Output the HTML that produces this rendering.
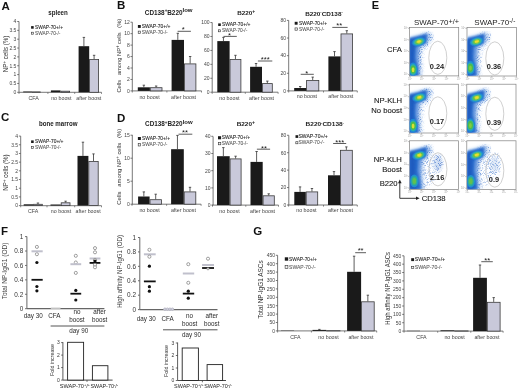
<!DOCTYPE html>
<html><head><meta charset="utf-8"><style>
html,body{margin:0;padding:0;background:#fff;}
svg{display:block;will-change:transform;}
text{font-family:"Liberation Sans", sans-serif;}
</style></head><body>
<svg width="520" height="390" viewBox="0 0 520 390" font-family='"Liberation Sans", sans-serif'>
<defs>
<filter id="blur05" x="-30%" y="-30%" width="160%" height="160%"><feGaussianBlur stdDeviation="0.55"/></filter>
<filter id="speck" x="0" y="0" width="100%" height="100%" filterUnits="objectBoundingBox"><feGaussianBlur in="SourceGraphic" stdDeviation="1.4" result="b"/><feTurbulence type="fractalNoise" baseFrequency="1.1" numOctaves="1" seed="3" result="n"/><feColorMatrix in="n" type="matrix" values="0 0 0 0 0  0 0 0 0 0  0 0 0 0 0  0 0 0 3.2 -1.55" result="na"/><feComposite in="b" in2="na" operator="in"/><feGaussianBlur stdDeviation="0.3"/></filter>
<filter id="blur1" x="-20%" y="-20%" width="140%" height="140%"><feGaussianBlur stdDeviation="0.8"/></filter>
<filter id="blur2" x="-30%" y="-30%" width="160%" height="160%"><feGaussianBlur stdDeviation="1.6"/></filter>
<radialGradient id="hot"><stop offset="0" stop-color="#f0d820"/><stop offset="0.22" stop-color="#e8e030"/><stop offset="0.42" stop-color="#5cc050"/><stop offset="0.62" stop-color="#20a8c0"/><stop offset="0.82" stop-color="#1c70cc"/><stop offset="1" stop-color="#2a6cc8" stop-opacity="0"/></radialGradient>
<radialGradient id="hot2"><stop offset="0" stop-color="#e8e430"/><stop offset="0.2" stop-color="#c0dc38"/><stop offset="0.42" stop-color="#40bc50"/><stop offset="0.65" stop-color="#20a0c8"/><stop offset="0.85" stop-color="#1c6cc8"/><stop offset="1" stop-color="#2a6cc8" stop-opacity="0"/></radialGradient>
<radialGradient id="hot3"><stop offset="0" stop-color="#78cc48"/><stop offset="0.35" stop-color="#40b868"/><stop offset="0.65" stop-color="#209cc8"/><stop offset="0.85" stop-color="#1c6cc8"/><stop offset="1" stop-color="#2a6cc8" stop-opacity="0"/></radialGradient>
</defs>
<rect width="520" height="390" fill="#fff"/>
<text x="1.4" y="9.8" font-size="11.5" text-anchor="start" font-weight="bold" fill="#111">A</text>
<text x="48.3" y="14.8" font-size="6.7" text-anchor="start" font-weight="bold" fill="#222" textLength="19.5" lengthAdjust="spacingAndGlyphs">spleen</text>
<line x1="19.0" y1="21.5" x2="19.0" y2="92.3" stroke="#555" stroke-width="0.8"/>
<line x1="17.2" y1="92.3" x2="19.0" y2="92.3" stroke="#555" stroke-width="0.8"/>
<text x="16.4" y="94.1" font-size="5" text-anchor="end" fill="#444">0</text>
<line x1="17.2" y1="83.45" x2="19.0" y2="83.45" stroke="#555" stroke-width="0.8"/>
<text x="16.4" y="85.25" font-size="5" text-anchor="end" fill="#444">0.5</text>
<line x1="17.2" y1="74.6" x2="19.0" y2="74.6" stroke="#555" stroke-width="0.8"/>
<text x="16.4" y="76.4" font-size="5" text-anchor="end" fill="#444">1</text>
<line x1="17.2" y1="65.75" x2="19.0" y2="65.75" stroke="#555" stroke-width="0.8"/>
<text x="16.4" y="67.55" font-size="5" text-anchor="end" fill="#444">1.5</text>
<line x1="17.2" y1="56.9" x2="19.0" y2="56.9" stroke="#555" stroke-width="0.8"/>
<text x="16.4" y="58.7" font-size="5" text-anchor="end" fill="#444">2</text>
<line x1="17.2" y1="48.05" x2="19.0" y2="48.05" stroke="#555" stroke-width="0.8"/>
<text x="16.4" y="49.85" font-size="5" text-anchor="end" fill="#444">2.5</text>
<line x1="17.2" y1="39.2" x2="19.0" y2="39.2" stroke="#555" stroke-width="0.8"/>
<text x="16.4" y="41.0" font-size="5" text-anchor="end" fill="#444">3</text>
<line x1="17.2" y1="30.35" x2="19.0" y2="30.35" stroke="#555" stroke-width="0.8"/>
<text x="16.4" y="32.15" font-size="5" text-anchor="end" fill="#444">3.5</text>
<line x1="17.2" y1="21.5" x2="19.0" y2="21.5" stroke="#555" stroke-width="0.8"/>
<text x="16.4" y="23.3" font-size="5" text-anchor="end" fill="#444">4</text>
<line x1="19.0" y1="92.3" x2="101.5" y2="92.3" stroke="#555" stroke-width="0.8"/>
<line x1="19.0" y1="92.3" x2="19.0" y2="93.89999999999999" stroke="#555" stroke-width="0.7"/>
<line x1="47.9" y1="92.3" x2="47.9" y2="93.89999999999999" stroke="#555" stroke-width="0.7"/>
<line x1="74.7" y1="92.3" x2="74.7" y2="93.89999999999999" stroke="#555" stroke-width="0.7"/>
<line x1="101.5" y1="92.3" x2="101.5" y2="93.89999999999999" stroke="#555" stroke-width="0.7"/>
<rect x="23.2" y="91.5" width="8.8" height="0.7999999999999972" fill="#1a1a1a" stroke="none" stroke-width="0.8"/>
<rect x="32.4" y="91.9" width="7.800000000000002" height="0.39999999999999714" fill="#c9c9da" stroke="#3a3a3a" stroke-width="0.8"/>
<rect x="50.9" y="90.4" width="9.600000000000001" height="1.8999999999999915" fill="#1a1a1a" stroke="none" stroke-width="0.8"/>
<rect x="60.9" y="91.2" width="8.7" height="1.1" fill="#c9c9da" stroke="#3a3a3a" stroke-width="0.8"/>
<rect x="78.6" y="46.2" width="10.600000000000009" height="46.099999999999994" fill="#1a1a1a" stroke="none" stroke-width="0.8"/>
<line x1="83.9" y1="37.4" x2="83.9" y2="46.2" stroke="#333" stroke-width="0.8"/>
<line x1="82.7" y1="37.4" x2="85.10000000000001" y2="37.4" stroke="#333" stroke-width="0.8"/>
<rect x="89.60000000000001" y="59.4" width="8.999999999999996" height="32.9" fill="#c9c9da" stroke="#3a3a3a" stroke-width="0.8"/>
<line x1="94.1" y1="55.3" x2="94.1" y2="59.0" stroke="#333" stroke-width="0.8"/>
<line x1="92.89999999999999" y1="55.3" x2="95.3" y2="55.3" stroke="#333" stroke-width="0.8"/>
<rect x="31.1" y="26.1" width="2.6" height="2.6" fill="#1a1a1a" stroke="none" stroke-width="0.8"/>
<rect x="31.400000000000002" y="32.199999999999996" width="2.0" height="2.0" fill="#f0f0f0" stroke="#333" stroke-width="0.6"/>
<text x="35.1" y="28.8" font-size="5.2" text-anchor="start" fill="#2a2a2a" stroke="#2a2a2a" stroke-width="0.1" textLength="27.9" lengthAdjust="spacingAndGlyphs">SWAP-70+/+</text>
<text x="35.1" y="34.6" font-size="5.2" text-anchor="start" fill="#5a5a5a" stroke="#5a5a5a" stroke-width="0.08" textLength="25.2" lengthAdjust="spacingAndGlyphs">SWAP-70-/-</text>
<text x="33.6" y="99.7" font-size="5.3" text-anchor="middle" fill="#444">CFA</text>
<text x="61.3" y="99.7" font-size="5.3" text-anchor="middle" fill="#444">no boost</text>
<text x="88.8" y="99.7" font-size="5.3" text-anchor="middle" fill="#444">after boost</text>
<text x="7.8" y="54.0" font-size="6.3" text-anchor="middle" fill="#333" transform="rotate(-90 7.8 54.0)" textLength="36.5" lengthAdjust="spacingAndGlyphs">NP<tspan font-size="4.8" dy="-2.2">+</tspan><tspan dy="2.2"> cells (%)</tspan></text>
<text x="117.0" y="9.2" font-size="11.5" text-anchor="start" font-weight="bold" fill="#111">B</text>
<text x="144.8" y="14.5" font-size="6.4" font-weight="bold" fill="#222" textLength="47.79999999999998" lengthAdjust="spacingAndGlyphs">CD138<tspan font-size="4.4799999999999995" dy="-2.3">+</tspan><tspan dy="2.3">B220</tspan><tspan font-size="6.08" dy="-2.6">low</tspan></text>
<line x1="132.3" y1="22.2" x2="132.3" y2="90.9" stroke="#555" stroke-width="0.8"/>
<line x1="130.5" y1="90.9" x2="132.3" y2="90.9" stroke="#555" stroke-width="0.8"/>
<text x="129.70000000000002" y="92.7" font-size="5" text-anchor="end" fill="#444">0</text>
<line x1="130.5" y1="79.45" x2="132.3" y2="79.45" stroke="#555" stroke-width="0.8"/>
<text x="129.70000000000002" y="81.25" font-size="5" text-anchor="end" fill="#444">2</text>
<line x1="130.5" y1="68.0" x2="132.3" y2="68.0" stroke="#555" stroke-width="0.8"/>
<text x="129.70000000000002" y="69.8" font-size="5" text-anchor="end" fill="#444">4</text>
<line x1="130.5" y1="56.55" x2="132.3" y2="56.55" stroke="#555" stroke-width="0.8"/>
<text x="129.70000000000002" y="58.35" font-size="5" text-anchor="end" fill="#444">6</text>
<line x1="130.5" y1="45.1" x2="132.3" y2="45.1" stroke="#555" stroke-width="0.8"/>
<text x="129.70000000000002" y="46.9" font-size="5" text-anchor="end" fill="#444">8</text>
<line x1="130.5" y1="33.65" x2="132.3" y2="33.65" stroke="#555" stroke-width="0.8"/>
<text x="129.70000000000002" y="35.45" font-size="5" text-anchor="end" fill="#444">10</text>
<line x1="130.5" y1="22.2" x2="132.3" y2="22.2" stroke="#555" stroke-width="0.8"/>
<text x="129.70000000000002" y="24.0" font-size="5" text-anchor="end" fill="#444">12</text>
<line x1="132.3" y1="90.9" x2="201.5" y2="90.9" stroke="#555" stroke-width="0.8"/>
<line x1="132.3" y1="90.9" x2="132.3" y2="92.5" stroke="#555" stroke-width="0.7"/>
<line x1="166.9" y1="90.9" x2="166.9" y2="92.5" stroke="#555" stroke-width="0.7"/>
<line x1="201.5" y1="90.9" x2="201.5" y2="92.5" stroke="#555" stroke-width="0.7"/>
<rect x="137.8" y="87.3" width="12.099999999999994" height="3.6000000000000085" fill="#1a1a1a" stroke="none" stroke-width="0.8"/>
<line x1="143.85000000000002" y1="85.2" x2="143.85000000000002" y2="87.3" stroke="#333" stroke-width="0.8"/>
<line x1="142.65000000000003" y1="85.2" x2="145.05" y2="85.2" stroke="#333" stroke-width="0.8"/>
<rect x="150.3" y="87.7" width="11.7" height="3.2000000000000086" fill="#c9c9da" stroke="#3a3a3a" stroke-width="0.8"/>
<line x1="156.15" y1="86.0" x2="156.15" y2="87.3" stroke="#333" stroke-width="0.8"/>
<line x1="154.95000000000002" y1="86.0" x2="157.35" y2="86.0" stroke="#333" stroke-width="0.8"/>
<rect x="171.6" y="39.9" width="12.400000000000006" height="51.00000000000001" fill="#1a1a1a" stroke="none" stroke-width="0.8"/>
<line x1="177.8" y1="33.3" x2="177.8" y2="39.9" stroke="#333" stroke-width="0.8"/>
<line x1="176.60000000000002" y1="33.3" x2="179.0" y2="33.3" stroke="#333" stroke-width="0.8"/>
<rect x="184.4" y="63.9" width="11.50000000000001" height="27.000000000000007" fill="#c9c9da" stroke="#3a3a3a" stroke-width="0.8"/>
<line x1="190.15" y1="56.5" x2="190.15" y2="63.5" stroke="#333" stroke-width="0.8"/>
<line x1="188.95000000000002" y1="56.5" x2="191.35" y2="56.5" stroke="#333" stroke-width="0.8"/>
<line x1="177.6" y1="31.3" x2="190.9" y2="31.3" stroke="#333" stroke-width="0.8"/>
<text x="183.2" y="31.75" font-size="7.6" text-anchor="middle" fill="#1a1a1a">*</text>
<rect x="137.9" y="25.0" width="2.9" height="2.9" fill="#1a1a1a" stroke="none" stroke-width="0.8"/>
<rect x="138.20000000000002" y="31.1" width="2.3" height="2.3" fill="#f0f0f0" stroke="#333" stroke-width="0.6"/>
<text x="141.8" y="28.0" font-size="5.0" text-anchor="start" fill="#2a2a2a" stroke="#2a2a2a" stroke-width="0.1" textLength="28.6" lengthAdjust="spacingAndGlyphs">SWAP-70+/+</text>
<text x="141.8" y="33.8" font-size="5.0" text-anchor="start" fill="#5a5a5a" stroke="#5a5a5a" stroke-width="0.08" textLength="25.9" lengthAdjust="spacingAndGlyphs">SWAP-70-/-</text>
<text x="149.6" y="98.6" font-size="5.3" text-anchor="middle" fill="#444">no boost</text>
<text x="183.5" y="98.6" font-size="5.3" text-anchor="middle" fill="#444">after boost</text>
<text x="121.4" y="55.65" font-size="6.0" text-anchor="middle" fill="#333" transform="rotate(-90 121.4 55.65)" textLength="73.9" lengthAdjust="spacingAndGlyphs">Cells&#160;&#160; among NP<tspan font-size="4.5" dy="-2">+</tspan><tspan dy="2"> cells&#160;&#160; (%)</tspan></text>
<text x="237.2" y="15.3" font-size="6.2" font-weight="bold" fill="#222" textLength="18.0" lengthAdjust="spacingAndGlyphs">B220<tspan font-size="4.960000000000001" dy="-2.3">+</tspan></text>
<line x1="212.2" y1="22.5" x2="212.2" y2="92.2" stroke="#555" stroke-width="0.8"/>
<line x1="210.39999999999998" y1="92.2" x2="212.2" y2="92.2" stroke="#555" stroke-width="0.8"/>
<text x="209.6" y="94.0" font-size="5" text-anchor="end" fill="#444">0</text>
<line x1="210.39999999999998" y1="78.27" x2="212.2" y2="78.27" stroke="#555" stroke-width="0.8"/>
<text x="209.6" y="80.07" font-size="5" text-anchor="end" fill="#444">20</text>
<line x1="210.39999999999998" y1="64.34" x2="212.2" y2="64.34" stroke="#555" stroke-width="0.8"/>
<text x="209.6" y="66.14" font-size="5" text-anchor="end" fill="#444">40</text>
<line x1="210.39999999999998" y1="50.41" x2="212.2" y2="50.41" stroke="#555" stroke-width="0.8"/>
<text x="209.6" y="52.21" font-size="5" text-anchor="end" fill="#444">60</text>
<line x1="210.39999999999998" y1="36.48" x2="212.2" y2="36.48" stroke="#555" stroke-width="0.8"/>
<text x="209.6" y="38.28" font-size="5" text-anchor="end" fill="#444">80</text>
<line x1="210.39999999999998" y1="22.55" x2="212.2" y2="22.55" stroke="#555" stroke-width="0.8"/>
<text x="209.6" y="24.35" font-size="5" text-anchor="end" fill="#444">100</text>
<line x1="212.2" y1="92.2" x2="278.1" y2="92.2" stroke="#555" stroke-width="0.8"/>
<line x1="212.2" y1="92.2" x2="212.2" y2="93.8" stroke="#555" stroke-width="0.7"/>
<line x1="245.3" y1="92.2" x2="245.3" y2="93.8" stroke="#555" stroke-width="0.7"/>
<line x1="278.1" y1="92.2" x2="278.1" y2="93.8" stroke="#555" stroke-width="0.7"/>
<rect x="217.3" y="41.1" width="12.299999999999983" height="51.1" fill="#1a1a1a" stroke="none" stroke-width="0.8"/>
<line x1="223.45" y1="37.4" x2="223.45" y2="41.1" stroke="#333" stroke-width="0.8"/>
<line x1="222.25" y1="37.4" x2="224.64999999999998" y2="37.4" stroke="#333" stroke-width="0.8"/>
<rect x="230.0" y="59.4" width="10.900000000000016" height="32.800000000000004" fill="#c9c9da" stroke="#3a3a3a" stroke-width="0.8"/>
<line x1="235.45" y1="55.3" x2="235.45" y2="59.0" stroke="#333" stroke-width="0.8"/>
<line x1="234.25" y1="55.3" x2="236.64999999999998" y2="55.3" stroke="#333" stroke-width="0.8"/>
<rect x="250.1" y="66.8" width="11.900000000000006" height="25.400000000000006" fill="#1a1a1a" stroke="none" stroke-width="0.8"/>
<line x1="256.05" y1="63.5" x2="256.05" y2="66.8" stroke="#333" stroke-width="0.8"/>
<line x1="254.85000000000002" y1="63.5" x2="257.25" y2="63.5" stroke="#333" stroke-width="0.8"/>
<rect x="262.4" y="83.60000000000001" width="9.899999999999988" height="8.6" fill="#c9c9da" stroke="#3a3a3a" stroke-width="0.8"/>
<line x1="267.35" y1="81.1" x2="267.35" y2="83.2" stroke="#333" stroke-width="0.8"/>
<line x1="266.15000000000003" y1="81.1" x2="268.55" y2="81.1" stroke="#333" stroke-width="0.8"/>
<line x1="223.5" y1="36.4" x2="236.8" y2="36.4" stroke="#333" stroke-width="0.8"/>
<text x="229.6" y="38.15" font-size="7.6" text-anchor="middle" fill="#1a1a1a">*</text>
<line x1="257.9" y1="61.0" x2="272.3" y2="61.0" stroke="#333" stroke-width="0.8"/>
<text x="265.3" y="61.95" font-size="7.6" text-anchor="middle" fill="#1a1a1a">***</text>
<rect x="218.2" y="23.4" width="2.6" height="2.6" fill="#1a1a1a" stroke="none" stroke-width="0.8"/>
<rect x="218.5" y="29.8" width="2.0" height="2.0" fill="#f0f0f0" stroke="#333" stroke-width="0.6"/>
<text x="221.9" y="26.1" font-size="4.9" text-anchor="start" fill="#2a2a2a" stroke="#2a2a2a" stroke-width="0.1" textLength="28.6" lengthAdjust="spacingAndGlyphs">SWAP-70+/+</text>
<text x="221.9" y="32.2" font-size="4.9" text-anchor="start" fill="#5a5a5a" stroke="#5a5a5a" stroke-width="0.08" textLength="25.4" lengthAdjust="spacingAndGlyphs">SWAP-70-/-</text>
<text x="229.4" y="99.6" font-size="5.3" text-anchor="middle" fill="#444">no boost</text>
<text x="261.5" y="99.6" font-size="5.3" text-anchor="middle" fill="#444">after boost</text>
<text x="305.2" y="15.5" font-size="6.2" font-weight="bold" fill="#222" textLength="37.5" lengthAdjust="spacingAndGlyphs">B220<tspan font-size="3.7199999999999998" dy="-2.3">-</tspan><tspan dy="2.3">CD138</tspan><tspan font-size="3.7199999999999998" dy="-2.3">-</tspan></text>
<line x1="288.7" y1="20.4" x2="288.7" y2="90.9" stroke="#555" stroke-width="0.8"/>
<line x1="286.9" y1="90.9" x2="288.7" y2="90.9" stroke="#555" stroke-width="0.8"/>
<text x="286.09999999999997" y="92.7" font-size="5" text-anchor="end" fill="#444">0</text>
<line x1="286.9" y1="73.28" x2="288.7" y2="73.28" stroke="#555" stroke-width="0.8"/>
<text x="286.09999999999997" y="75.08" font-size="5" text-anchor="end" fill="#444">20</text>
<line x1="286.9" y1="55.66" x2="288.7" y2="55.66" stroke="#555" stroke-width="0.8"/>
<text x="286.09999999999997" y="57.46" font-size="5" text-anchor="end" fill="#444">40</text>
<line x1="286.9" y1="38.04" x2="288.7" y2="38.04" stroke="#555" stroke-width="0.8"/>
<text x="286.09999999999997" y="39.84" font-size="5" text-anchor="end" fill="#444">60</text>
<line x1="286.9" y1="20.42" x2="288.7" y2="20.42" stroke="#555" stroke-width="0.8"/>
<text x="286.09999999999997" y="22.22" font-size="5" text-anchor="end" fill="#444">80</text>
<line x1="288.7" y1="90.9" x2="357.3" y2="90.9" stroke="#555" stroke-width="0.8"/>
<line x1="288.7" y1="90.9" x2="288.7" y2="92.5" stroke="#555" stroke-width="0.7"/>
<line x1="323.5" y1="90.9" x2="323.5" y2="92.5" stroke="#555" stroke-width="0.7"/>
<line x1="357.3" y1="90.9" x2="357.3" y2="92.5" stroke="#555" stroke-width="0.7"/>
<rect x="294.2" y="88.0" width="12.0" height="2.9000000000000057" fill="#1a1a1a" stroke="none" stroke-width="0.8"/>
<line x1="300.2" y1="86.5" x2="300.2" y2="88.0" stroke="#333" stroke-width="0.8"/>
<line x1="299.0" y1="86.5" x2="301.4" y2="86.5" stroke="#333" stroke-width="0.8"/>
<rect x="306.59999999999997" y="80.4" width="12.2" height="10.500000000000005" fill="#c9c9da" stroke="#3a3a3a" stroke-width="0.8"/>
<line x1="312.7" y1="77.1" x2="312.7" y2="80.0" stroke="#333" stroke-width="0.8"/>
<line x1="311.5" y1="77.1" x2="313.9" y2="77.1" stroke="#333" stroke-width="0.8"/>
<rect x="328.4" y="56.4" width="12.200000000000045" height="34.50000000000001" fill="#1a1a1a" stroke="none" stroke-width="0.8"/>
<line x1="334.5" y1="51.6" x2="334.5" y2="56.4" stroke="#333" stroke-width="0.8"/>
<line x1="333.3" y1="51.6" x2="335.7" y2="51.6" stroke="#333" stroke-width="0.8"/>
<rect x="341.0" y="33.9" width="11.599999999999977" height="57.00000000000001" fill="#c9c9da" stroke="#3a3a3a" stroke-width="0.8"/>
<line x1="346.8" y1="30.7" x2="346.8" y2="33.5" stroke="#333" stroke-width="0.8"/>
<line x1="345.6" y1="30.7" x2="348.0" y2="30.7" stroke="#333" stroke-width="0.8"/>
<line x1="300.7" y1="74.3" x2="313.8" y2="74.3" stroke="#333" stroke-width="0.8"/>
<text x="306.8" y="75.65" font-size="7.6" text-anchor="middle" fill="#1a1a1a">*</text>
<line x1="332.3" y1="27.4" x2="347.6" y2="27.4" stroke="#333" stroke-width="0.8"/>
<text x="339.2" y="28.15" font-size="7.6" text-anchor="middle" fill="#1a1a1a">**</text>
<rect x="294.7" y="21.8" width="2.9" height="2.9" fill="#1a1a1a" stroke="none" stroke-width="0.8"/>
<rect x="295.0" y="27.900000000000002" width="2.3" height="2.3" fill="#f0f0f0" stroke="#333" stroke-width="0.6"/>
<text x="299.1" y="24.8" font-size="5.0" text-anchor="start" fill="#2a2a2a" stroke="#2a2a2a" stroke-width="0.1" textLength="27.9" lengthAdjust="spacingAndGlyphs">SWAP-70+/+</text>
<text x="299.1" y="30.6" font-size="5.0" text-anchor="start" fill="#5a5a5a" stroke="#5a5a5a" stroke-width="0.08" textLength="25.2" lengthAdjust="spacingAndGlyphs">SWAP-70-/-</text>
<text x="306.9" y="98.2" font-size="5.3" text-anchor="middle" fill="#444">no boost</text>
<text x="340.8" y="98.2" font-size="5.3" text-anchor="middle" fill="#444">after boost</text>
<text x="1.0" y="121.2" font-size="11.5" text-anchor="start" font-weight="bold" fill="#111">C</text>
<text x="39.0" y="126.2" font-size="6.6" text-anchor="start" font-weight="bold" fill="#222" textLength="38.5" lengthAdjust="spacingAndGlyphs">bone marrow</text>
<line x1="20.7" y1="136.1" x2="20.7" y2="205.6" stroke="#555" stroke-width="0.8"/>
<line x1="18.9" y1="205.6" x2="20.7" y2="205.6" stroke="#555" stroke-width="0.8"/>
<text x="18.099999999999998" y="207.4" font-size="5" text-anchor="end" fill="#444">0</text>
<line x1="18.9" y1="196.91" x2="20.7" y2="196.91" stroke="#555" stroke-width="0.8"/>
<text x="18.099999999999998" y="198.71" font-size="5" text-anchor="end" fill="#444">0.5</text>
<line x1="18.9" y1="188.22" x2="20.7" y2="188.22" stroke="#555" stroke-width="0.8"/>
<text x="18.099999999999998" y="190.02" font-size="5" text-anchor="end" fill="#444">1</text>
<line x1="18.9" y1="179.53" x2="20.7" y2="179.53" stroke="#555" stroke-width="0.8"/>
<text x="18.099999999999998" y="181.33" font-size="5" text-anchor="end" fill="#444">1.5</text>
<line x1="18.9" y1="170.84" x2="20.7" y2="170.84" stroke="#555" stroke-width="0.8"/>
<text x="18.099999999999998" y="172.64" font-size="5" text-anchor="end" fill="#444">2</text>
<line x1="18.9" y1="162.15" x2="20.7" y2="162.15" stroke="#555" stroke-width="0.8"/>
<text x="18.099999999999998" y="163.95" font-size="5" text-anchor="end" fill="#444">2.5</text>
<line x1="18.9" y1="153.46" x2="20.7" y2="153.46" stroke="#555" stroke-width="0.8"/>
<text x="18.099999999999998" y="155.26" font-size="5" text-anchor="end" fill="#444">3</text>
<line x1="18.9" y1="144.77" x2="20.7" y2="144.77" stroke="#555" stroke-width="0.8"/>
<text x="18.099999999999998" y="146.57" font-size="5" text-anchor="end" fill="#444">3.5</text>
<line x1="18.9" y1="136.08" x2="20.7" y2="136.08" stroke="#555" stroke-width="0.8"/>
<text x="18.099999999999998" y="137.88" font-size="5" text-anchor="end" fill="#444">4</text>
<line x1="20.7" y1="205.7" x2="101.5" y2="205.7" stroke="#555" stroke-width="0.8"/>
<line x1="20.7" y1="205.7" x2="20.7" y2="207.29999999999998" stroke="#555" stroke-width="0.7"/>
<line x1="47.0" y1="205.7" x2="47.0" y2="207.29999999999998" stroke="#555" stroke-width="0.7"/>
<line x1="74.7" y1="205.7" x2="74.7" y2="207.29999999999998" stroke="#555" stroke-width="0.7"/>
<line x1="101.5" y1="205.7" x2="101.5" y2="207.29999999999998" stroke="#555" stroke-width="0.7"/>
<rect x="23.7" y="204.3" width="9.500000000000004" height="1.299999999999983" fill="#1a1a1a" stroke="none" stroke-width="0.8"/>
<rect x="33.6" y="204.3" width="8.7" height="1.2999999999999887" fill="#c9c9da" stroke="#3a3a3a" stroke-width="0.8"/>
<line x1="37.95" y1="203.0" x2="37.95" y2="203.9" stroke="#333" stroke-width="0.8"/>
<line x1="36.75" y1="203.0" x2="39.150000000000006" y2="203.0" stroke="#333" stroke-width="0.8"/>
<rect x="50.5" y="204.5" width="10.299999999999997" height="1.0999999999999943" fill="#1a1a1a" stroke="none" stroke-width="0.8"/>
<rect x="61.199999999999996" y="202.8" width="8.800000000000008" height="2.7999999999999887" fill="#c9c9da" stroke="#3a3a3a" stroke-width="0.8"/>
<line x1="65.6" y1="201.2" x2="65.6" y2="202.4" stroke="#333" stroke-width="0.8"/>
<line x1="64.39999999999999" y1="201.2" x2="66.8" y2="201.2" stroke="#333" stroke-width="0.8"/>
<rect x="77.5" y="155.9" width="10.900000000000006" height="49.69999999999999" fill="#1a1a1a" stroke="none" stroke-width="0.8"/>
<line x1="82.95" y1="142.2" x2="82.95" y2="155.9" stroke="#333" stroke-width="0.8"/>
<line x1="81.75" y1="142.2" x2="84.15" y2="142.2" stroke="#333" stroke-width="0.8"/>
<rect x="88.80000000000001" y="161.4" width="9.399999999999988" height="44.199999999999996" fill="#c9c9da" stroke="#3a3a3a" stroke-width="0.8"/>
<line x1="93.5" y1="153.9" x2="93.5" y2="161.0" stroke="#333" stroke-width="0.8"/>
<line x1="92.3" y1="153.9" x2="94.7" y2="153.9" stroke="#333" stroke-width="0.8"/>
<rect x="31.1" y="140.4" width="2.6" height="2.6" fill="#1a1a1a" stroke="none" stroke-width="0.8"/>
<rect x="31.400000000000002" y="146.60000000000002" width="2.0" height="2.0" fill="#f0f0f0" stroke="#333" stroke-width="0.6"/>
<text x="35.1" y="143.1" font-size="5.2" text-anchor="start" fill="#2a2a2a" stroke="#2a2a2a" stroke-width="0.1" textLength="28.4" lengthAdjust="spacingAndGlyphs">SWAP-70+/+</text>
<text x="35.1" y="149.0" font-size="5.2" text-anchor="start" fill="#5a5a5a" stroke="#5a5a5a" stroke-width="0.08" textLength="26.0" lengthAdjust="spacingAndGlyphs">SWAP-70-/-</text>
<text x="33.2" y="212.9" font-size="5.3" text-anchor="middle" fill="#444">CFA</text>
<text x="61.0" y="212.9" font-size="5.3" text-anchor="middle" fill="#444">no boost</text>
<text x="88.1" y="212.9" font-size="5.3" text-anchor="middle" fill="#444">after boost</text>
<text x="7.8" y="172.6" font-size="6.3" text-anchor="middle" fill="#333" transform="rotate(-90 7.8 172.6)" textLength="36.3" lengthAdjust="spacingAndGlyphs">NP<tspan font-size="4.8" dy="-2.2">+</tspan><tspan dy="2.2"> cells (%)</tspan></text>
<text x="117.0" y="122.0" font-size="11.5" text-anchor="start" font-weight="bold" fill="#111">D</text>
<text x="145.1" y="126.1" font-size="6.4" font-weight="bold" fill="#222" textLength="47.599999999999994" lengthAdjust="spacingAndGlyphs">CD138<tspan font-size="4.4799999999999995" dy="-2.3">+</tspan><tspan dy="2.3">B220</tspan><tspan font-size="6.08" dy="-2.6">low</tspan></text>
<line x1="132.3" y1="134.9" x2="132.3" y2="204.2" stroke="#555" stroke-width="0.8"/>
<line x1="130.5" y1="204.2" x2="132.3" y2="204.2" stroke="#555" stroke-width="0.8"/>
<text x="129.70000000000002" y="206.0" font-size="5" text-anchor="end" fill="#444">0</text>
<line x1="130.5" y1="181.2" x2="132.3" y2="181.2" stroke="#555" stroke-width="0.8"/>
<text x="129.70000000000002" y="183.0" font-size="5" text-anchor="end" fill="#444">5</text>
<line x1="130.5" y1="158.2" x2="132.3" y2="158.2" stroke="#555" stroke-width="0.8"/>
<text x="129.70000000000002" y="160.0" font-size="5" text-anchor="end" fill="#444">10</text>
<line x1="130.5" y1="135.2" x2="132.3" y2="135.2" stroke="#555" stroke-width="0.8"/>
<text x="129.70000000000002" y="137.0" font-size="5" text-anchor="end" fill="#444">15</text>
<line x1="132.0" y1="204.2" x2="201.1" y2="204.2" stroke="#555" stroke-width="0.8"/>
<line x1="132.0" y1="204.2" x2="132.0" y2="205.79999999999998" stroke="#555" stroke-width="0.7"/>
<line x1="166.6" y1="204.2" x2="166.6" y2="205.79999999999998" stroke="#555" stroke-width="0.7"/>
<line x1="201.1" y1="204.2" x2="201.1" y2="205.79999999999998" stroke="#555" stroke-width="0.7"/>
<rect x="138.1" y="196.5" width="11.5" height="7.699999999999989" fill="#1a1a1a" stroke="none" stroke-width="0.8"/>
<line x1="143.85" y1="191.9" x2="143.85" y2="196.5" stroke="#333" stroke-width="0.8"/>
<line x1="142.65" y1="191.9" x2="145.04999999999998" y2="191.9" stroke="#333" stroke-width="0.8"/>
<rect x="150.0" y="199.70000000000002" width="11.400000000000016" height="4.499999999999977" fill="#c9c9da" stroke="#3a3a3a" stroke-width="0.8"/>
<line x1="155.7" y1="194.2" x2="155.7" y2="199.3" stroke="#333" stroke-width="0.8"/>
<line x1="154.5" y1="194.2" x2="156.89999999999998" y2="194.2" stroke="#333" stroke-width="0.8"/>
<rect x="171.1" y="149.2" width="12.700000000000017" height="55.0" fill="#1a1a1a" stroke="none" stroke-width="0.8"/>
<line x1="177.45" y1="135.4" x2="177.45" y2="149.2" stroke="#333" stroke-width="0.8"/>
<line x1="176.25" y1="135.4" x2="178.64999999999998" y2="135.4" stroke="#333" stroke-width="0.8"/>
<rect x="184.20000000000002" y="191.9" width="11.599999999999977" height="12.299999999999988" fill="#c9c9da" stroke="#3a3a3a" stroke-width="0.8"/>
<line x1="190.0" y1="187.3" x2="190.0" y2="191.5" stroke="#333" stroke-width="0.8"/>
<line x1="188.8" y1="187.3" x2="191.2" y2="187.3" stroke="#333" stroke-width="0.8"/>
<line x1="178.5" y1="134.2" x2="192.3" y2="134.2" stroke="#333" stroke-width="0.8"/>
<text x="185.0" y="135.45" font-size="7.6" text-anchor="middle" fill="#1a1a1a">**</text>
<rect x="137.9" y="137.0" width="3.0" height="3.0" fill="#1a1a1a" stroke="none" stroke-width="0.8"/>
<rect x="138.20000000000002" y="143.60000000000002" width="2.4" height="2.4" fill="#f0f0f0" stroke="#333" stroke-width="0.6"/>
<text x="142.1" y="140.1" font-size="5.0" text-anchor="start" fill="#2a2a2a" stroke="#2a2a2a" stroke-width="0.1" textLength="27.9" lengthAdjust="spacingAndGlyphs">SWAP-70+/+</text>
<text x="142.1" y="146.4" font-size="5.0" text-anchor="start" fill="#5a5a5a" stroke="#5a5a5a" stroke-width="0.08" textLength="25.2" lengthAdjust="spacingAndGlyphs">SWAP-70-/-</text>
<text x="149.6" y="211.9" font-size="5.3" text-anchor="middle" fill="#444">no boost</text>
<text x="183.4" y="211.9" font-size="5.3" text-anchor="middle" fill="#444">after boost</text>
<text x="121.4" y="166.7" font-size="6.0" text-anchor="middle" fill="#333" transform="rotate(-90 121.4 166.7)" textLength="76" lengthAdjust="spacingAndGlyphs">Cells&#160;&#160; among NP<tspan font-size="4.5" dy="-2">+</tspan><tspan dy="2"> cells&#160;&#160; (%)</tspan></text>
<text x="236.7" y="126.3" font-size="6.2" font-weight="bold" fill="#222" textLength="18.30000000000001" lengthAdjust="spacingAndGlyphs">B220<tspan font-size="4.960000000000001" dy="-2.3">+</tspan></text>
<line x1="213.1" y1="136.5" x2="213.1" y2="205.1" stroke="#555" stroke-width="0.8"/>
<line x1="211.29999999999998" y1="205.1" x2="213.1" y2="205.1" stroke="#555" stroke-width="0.8"/>
<text x="210.5" y="206.9" font-size="5" text-anchor="end" fill="#444">0</text>
<line x1="211.29999999999998" y1="187.9" x2="213.1" y2="187.9" stroke="#555" stroke-width="0.8"/>
<text x="210.5" y="189.7" font-size="5" text-anchor="end" fill="#444">10</text>
<line x1="211.29999999999998" y1="170.7" x2="213.1" y2="170.7" stroke="#555" stroke-width="0.8"/>
<text x="210.5" y="172.5" font-size="5" text-anchor="end" fill="#444">20</text>
<line x1="211.29999999999998" y1="153.5" x2="213.1" y2="153.5" stroke="#555" stroke-width="0.8"/>
<text x="210.5" y="155.3" font-size="5" text-anchor="end" fill="#444">30</text>
<line x1="211.29999999999998" y1="136.3" x2="213.1" y2="136.3" stroke="#555" stroke-width="0.8"/>
<text x="210.5" y="138.1" font-size="5" text-anchor="end" fill="#444">40</text>
<line x1="212.5" y1="205.1" x2="278.5" y2="205.1" stroke="#555" stroke-width="0.8"/>
<line x1="212.5" y1="205.1" x2="212.5" y2="206.7" stroke="#555" stroke-width="0.7"/>
<line x1="245.8" y1="205.1" x2="245.8" y2="206.7" stroke="#555" stroke-width="0.7"/>
<line x1="278.5" y1="205.1" x2="278.5" y2="206.7" stroke="#555" stroke-width="0.7"/>
<rect x="217.0" y="156.2" width="12.699999999999989" height="48.900000000000006" fill="#1a1a1a" stroke="none" stroke-width="0.8"/>
<line x1="223.35" y1="147.6" x2="223.35" y2="156.2" stroke="#333" stroke-width="0.8"/>
<line x1="222.15" y1="147.6" x2="224.54999999999998" y2="147.6" stroke="#333" stroke-width="0.8"/>
<rect x="230.1" y="158.9" width="11.00000000000001" height="46.199999999999996" fill="#c9c9da" stroke="#3a3a3a" stroke-width="0.8"/>
<line x1="235.6" y1="156.2" x2="235.6" y2="158.5" stroke="#333" stroke-width="0.8"/>
<line x1="234.4" y1="156.2" x2="236.79999999999998" y2="156.2" stroke="#333" stroke-width="0.8"/>
<rect x="250.5" y="161.9" width="12.199999999999989" height="43.19999999999999" fill="#1a1a1a" stroke="none" stroke-width="0.8"/>
<line x1="256.6" y1="151.5" x2="256.6" y2="161.9" stroke="#333" stroke-width="0.8"/>
<line x1="255.40000000000003" y1="151.5" x2="257.8" y2="151.5" stroke="#333" stroke-width="0.8"/>
<rect x="263.09999999999997" y="195.8" width="11.2" height="9.299999999999988" fill="#c9c9da" stroke="#3a3a3a" stroke-width="0.8"/>
<line x1="268.7" y1="193.8" x2="268.7" y2="195.4" stroke="#333" stroke-width="0.8"/>
<line x1="267.5" y1="193.8" x2="269.9" y2="193.8" stroke="#333" stroke-width="0.8"/>
<line x1="256.9" y1="149.2" x2="270.1" y2="149.2" stroke="#333" stroke-width="0.8"/>
<text x="263.9" y="150.85" font-size="7.6" text-anchor="middle" fill="#1a1a1a">**</text>
<rect x="218.0" y="136.2" width="3.1" height="3.1" fill="#1a1a1a" stroke="none" stroke-width="0.8"/>
<rect x="218.3" y="142.3" width="2.5" height="2.5" fill="#f0f0f0" stroke="#333" stroke-width="0.6"/>
<text x="221.7" y="139.4" font-size="5.0" text-anchor="start" fill="#2a2a2a" stroke="#2a2a2a" stroke-width="0.1" textLength="28.5" lengthAdjust="spacingAndGlyphs">SWAP-70+/+</text>
<text x="221.7" y="145.2" font-size="5.0" text-anchor="start" fill="#5a5a5a" stroke="#5a5a5a" stroke-width="0.08" textLength="26.1" lengthAdjust="spacingAndGlyphs">SWAP-70-/-</text>
<text x="229.5" y="212.5" font-size="5.3" text-anchor="middle" fill="#444">no boost</text>
<text x="262.5" y="212.5" font-size="5.3" text-anchor="middle" fill="#444">after boost</text>
<text x="305.6" y="126.3" font-size="6.2" font-weight="bold" fill="#222" textLength="38.299999999999955" lengthAdjust="spacingAndGlyphs">B220<tspan font-size="3.7199999999999998" dy="-2.3">-</tspan><tspan dy="2.3">CD138</tspan><tspan font-size="3.7199999999999998" dy="-2.3">-</tspan></text>
<line x1="288.8" y1="135.4" x2="288.8" y2="205.0" stroke="#555" stroke-width="0.8"/>
<line x1="287.0" y1="205.0" x2="288.8" y2="205.0" stroke="#555" stroke-width="0.8"/>
<text x="286.2" y="206.8" font-size="5" text-anchor="end" fill="#444">0</text>
<line x1="287.0" y1="187.57" x2="288.8" y2="187.57" stroke="#555" stroke-width="0.8"/>
<text x="286.2" y="189.37" font-size="5" text-anchor="end" fill="#444">20</text>
<line x1="287.0" y1="170.14" x2="288.8" y2="170.14" stroke="#555" stroke-width="0.8"/>
<text x="286.2" y="171.94" font-size="5" text-anchor="end" fill="#444">40</text>
<line x1="287.0" y1="152.71" x2="288.8" y2="152.71" stroke="#555" stroke-width="0.8"/>
<text x="286.2" y="154.51" font-size="5" text-anchor="end" fill="#444">60</text>
<line x1="287.0" y1="135.28" x2="288.8" y2="135.28" stroke="#555" stroke-width="0.8"/>
<text x="286.2" y="137.08" font-size="5" text-anchor="end" fill="#444">80</text>
<line x1="288.6" y1="205.0" x2="357.3" y2="205.0" stroke="#555" stroke-width="0.8"/>
<line x1="288.6" y1="205.0" x2="288.6" y2="206.6" stroke="#555" stroke-width="0.7"/>
<line x1="323.5" y1="205.0" x2="323.5" y2="206.6" stroke="#555" stroke-width="0.7"/>
<line x1="357.3" y1="205.0" x2="357.3" y2="206.6" stroke="#555" stroke-width="0.7"/>
<rect x="294.3" y="191.9" width="11.5" height="13.099999999999994" fill="#1a1a1a" stroke="none" stroke-width="0.8"/>
<line x1="300.05" y1="186.9" x2="300.05" y2="191.9" stroke="#333" stroke-width="0.8"/>
<line x1="298.85" y1="186.9" x2="301.25" y2="186.9" stroke="#333" stroke-width="0.8"/>
<rect x="306.2" y="191.9" width="11.50000000000001" height="13.1" fill="#c9c9da" stroke="#3a3a3a" stroke-width="0.8"/>
<line x1="311.95000000000005" y1="188.5" x2="311.95000000000005" y2="191.5" stroke="#333" stroke-width="0.8"/>
<line x1="310.75000000000006" y1="188.5" x2="313.15000000000003" y2="188.5" stroke="#333" stroke-width="0.8"/>
<rect x="328.0" y="175.3" width="12.0" height="29.69999999999999" fill="#1a1a1a" stroke="none" stroke-width="0.8"/>
<line x1="334.0" y1="171.6" x2="334.0" y2="175.3" stroke="#333" stroke-width="0.8"/>
<line x1="332.8" y1="171.6" x2="335.2" y2="171.6" stroke="#333" stroke-width="0.8"/>
<rect x="340.4" y="150.3" width="11.899999999999988" height="54.699999999999996" fill="#c9c9da" stroke="#3a3a3a" stroke-width="0.8"/>
<line x1="346.35" y1="146.9" x2="346.35" y2="149.9" stroke="#333" stroke-width="0.8"/>
<line x1="345.15000000000003" y1="146.9" x2="347.55" y2="146.9" stroke="#333" stroke-width="0.8"/>
<line x1="333.1" y1="143.5" x2="346.2" y2="143.5" stroke="#333" stroke-width="0.8"/>
<text x="339.8" y="144.65" font-size="7.6" text-anchor="middle" fill="#1a1a1a">***</text>
<rect x="295.5" y="135.2" width="2.7" height="2.7" fill="#1a1a1a" stroke="none" stroke-width="0.8"/>
<rect x="295.8" y="141.70000000000002" width="2.1" height="2.1" fill="#f0f0f0" stroke="#333" stroke-width="0.6"/>
<text x="298.5" y="138.0" font-size="5.2" text-anchor="start" fill="#2a2a2a" stroke="#2a2a2a" stroke-width="0.1" textLength="29.3" lengthAdjust="spacingAndGlyphs">SWAP-70+/+</text>
<text x="298.5" y="144.2" font-size="5.2" text-anchor="start" fill="#5a5a5a" stroke="#5a5a5a" stroke-width="0.08" textLength="25.8" lengthAdjust="spacingAndGlyphs">SWAP-70-/-</text>
<text x="306.4" y="212.3" font-size="5.3" text-anchor="middle" fill="#444">no boost</text>
<text x="340.4" y="212.3" font-size="5.3" text-anchor="middle" fill="#444">after boost</text>
<text x="371.7" y="9.2" font-size="11" text-anchor="start" font-weight="bold" fill="#111">E</text>
<text x="414.0" y="24.9" font-size="8" fill="#222" textLength="45" lengthAdjust="spacingAndGlyphs">SWAP-70<tspan font-size="7.4" dy="-0.6">+/+</tspan></text>
<text x="474.3" y="24.9" font-size="8" fill="#222" textLength="41" lengthAdjust="spacingAndGlyphs">SWAP-70<tspan font-size="6.4" dy="-2">-/-</tspan></text>
<text x="402.0" y="51.7" font-size="7.7" text-anchor="end" fill="#222" stroke="#222" stroke-width="0.12">CFA</text>
<text x="402.1" y="103.4" font-size="7.7" text-anchor="end" fill="#222" stroke="#222" stroke-width="0.12">NP-KLH</text>
<text x="402.1" y="112.7" font-size="7.7" text-anchor="end" fill="#222" stroke="#222" stroke-width="0.12">No boost</text>
<text x="401.9" y="162.2" font-size="7.7" text-anchor="end" fill="#222" stroke="#222" stroke-width="0.12">NP-KLH</text>
<text x="401.9" y="171.9" font-size="7.7" text-anchor="end" fill="#222" stroke="#222" stroke-width="0.12">Boost</text>
<text x="397.6" y="185.8" font-size="7.7" text-anchor="end" fill="#222" stroke="#222" stroke-width="0.12">B220</text>
<text x="421.7" y="201.1" font-size="7.7" text-anchor="start" fill="#222" stroke="#222" stroke-width="0.12">CD138</text>
<line x1="399.8" y1="182.5" x2="399.8" y2="198.3" stroke="#222" stroke-width="0.9"/>
<line x1="399.8" y1="198.3" x2="417" y2="198.3" stroke="#222" stroke-width="0.9"/>
<path d="M399.8 179.6 L398.0 183.2 L401.6 183.2 Z" fill="#222"/>
<path d="M419.6 198.3 L416.0 196.5 L416.0 200.1 Z" fill="#222"/>
<rect x="409.5" y="27.5" width="49.2" height="48.4" fill="#fff" stroke="#808080" stroke-width="0.7"/>
<line x1="407.9" y1="28.3" x2="409.5" y2="28.3" stroke="#999" stroke-width="0.6"/>
<text x="407.7" y="28.9" font-size="2.6" text-anchor="end" fill="#999">10<tspan font-size="1.8" dy="-0.9">0</tspan></text>
<line x1="410.0" y1="75.9" x2="410.0" y2="77.5" stroke="#999" stroke-width="0.6"/>
<text x="410.0" y="79.7" font-size="2.6" text-anchor="middle" fill="#aaa">10<tspan font-size="1.8" dy="-0.9">0</tspan></text>
<line x1="407.9" y1="39.9" x2="409.5" y2="39.9" stroke="#999" stroke-width="0.6"/>
<text x="407.7" y="40.5" font-size="2.6" text-anchor="end" fill="#999">10<tspan font-size="1.8" dy="-0.9">1</tspan></text>
<line x1="421.8" y1="75.9" x2="421.8" y2="77.5" stroke="#999" stroke-width="0.6"/>
<text x="421.8" y="79.7" font-size="2.6" text-anchor="middle" fill="#aaa">10<tspan font-size="1.8" dy="-0.9">1</tspan></text>
<line x1="407.9" y1="51.4" x2="409.5" y2="51.4" stroke="#999" stroke-width="0.6"/>
<text x="407.7" y="52.0" font-size="2.6" text-anchor="end" fill="#999">10<tspan font-size="1.8" dy="-0.9">2</tspan></text>
<line x1="434.1" y1="75.9" x2="434.1" y2="77.5" stroke="#999" stroke-width="0.6"/>
<text x="434.1" y="79.7" font-size="2.6" text-anchor="middle" fill="#aaa">10<tspan font-size="1.8" dy="-0.9">2</tspan></text>
<line x1="407.9" y1="63.0" x2="409.5" y2="63.0" stroke="#999" stroke-width="0.6"/>
<text x="407.7" y="63.6" font-size="2.6" text-anchor="end" fill="#999">10<tspan font-size="1.8" dy="-0.9">3</tspan></text>
<line x1="446.4" y1="75.9" x2="446.4" y2="77.5" stroke="#999" stroke-width="0.6"/>
<text x="446.4" y="79.7" font-size="2.6" text-anchor="middle" fill="#aaa">10<tspan font-size="1.8" dy="-0.9">3</tspan></text>
<line x1="407.9" y1="74.5" x2="409.5" y2="74.5" stroke="#999" stroke-width="0.6"/>
<text x="407.7" y="75.1" font-size="2.6" text-anchor="end" fill="#999">10<tspan font-size="1.8" dy="-0.9">4</tspan></text>
<line x1="458.7" y1="75.9" x2="458.7" y2="77.5" stroke="#999" stroke-width="0.6"/>
<text x="458.7" y="79.7" font-size="2.6" text-anchor="middle" fill="#aaa">10<tspan font-size="1.8" dy="-0.9">4</tspan></text>
<clipPath id="c409_27"><rect x="0.4" y="0.3" width="48.5" height="47.8"/></clipPath>
<g clip-path="url(#c409_27)" transform="translate(409.5 27.5)">
<path d="M0 9.0 L10 6.5 L17 4.5 L22 5.5 L23 11.0 L18 17.5 L12.0 21 L11.5 32 L12.5 48.4 L0 48.4 Z" fill="#c8dcf4" filter="url(#blur2)"/>
<path d="M12 6.5 L18 4.0 L23.5 6.0 L24 12.0 L19 19.0 L14.0 23 L13.0 34 L13.0 48.4 L6.0 48.4 L6.0 20 Z" fill="#4a7cd0" filter="url(#speck)"/>
<path d="M0 10.5 L14 7.0 L17.8 5.8 L18.6 8.0 L17.6 15.5 L10.0 19.5 L9.0 30 L9.4 38 L10.0 48.4 L0 48.4 Z" fill="#6e9ce0" filter="url(#blur1)"/>
<path d="M0 11.0 L8 9.2 L14 7.4 L16.4 6.6 L17.2 7.6 L16.8 12.0 L16 15.6 L10 17.6 L6.5 20.0 L5.8 30 L7.5 37 L9.0 48.4 L0 48.4 Z" fill="#2a6ccc" filter="url(#blur1)"/>
<path d="M0 12.5 L9 10.6 L15 9.0 L15 14.0 L9 16.5 L4.5 19.0 L4.0 34 L6.0 48.4 L0 48.4 Z" fill="#1d58bc" filter="url(#blur1)" opacity="0.8"/>
<g transform="rotate(-16 9.3 14.3)" filter="url(#blur05)">
<ellipse cx="9.3" cy="14.3" rx="7.0" ry="4.2" fill="#1f8ad6"/>
<ellipse cx="9.3" cy="14.3" rx="5.4" ry="3.2" fill="#2fb0b0"/>
<ellipse cx="9.3" cy="14.3" rx="4.0" ry="2.4" fill="#60c448"/>
<ellipse cx="9.5" cy="14.3" rx="2.3" ry="1.45" fill="#ece02a"/>
</g>
<g filter="url(#blur05)">
<ellipse cx="3.6" cy="42.0" rx="4.6" ry="7.0" fill="#1f8ad6"/>
<ellipse cx="3.6" cy="42.0" rx="3.5" ry="5.4" fill="#2fb0a8"/>
<ellipse cx="3.6" cy="42.0" rx="2.6" ry="4.1" fill="#4cbc4c"/>
<ellipse cx="3.6" cy="42.2" rx="1.4" ry="2.5" fill="#d8e030"/>
</g>
</g>
<ellipse cx="437.8" cy="57.8" rx="9.0" ry="16.6" fill="none" stroke="#b0b0b0" stroke-width="0.6"/>
<text x="437.0" y="68.7" font-size="7.4" font-weight="bold" text-anchor="middle" fill="#222">0.24</text>
<rect x="467.0" y="27.6" width="49.5" height="48.4" fill="#fff" stroke="#808080" stroke-width="0.7"/>
<line x1="465.4" y1="28.4" x2="467.0" y2="28.4" stroke="#999" stroke-width="0.6"/>
<text x="465.2" y="29.0" font-size="2.6" text-anchor="end" fill="#999">10<tspan font-size="1.8" dy="-0.9">0</tspan></text>
<line x1="467.5" y1="76.0" x2="467.5" y2="77.6" stroke="#999" stroke-width="0.6"/>
<text x="467.5" y="79.8" font-size="2.6" text-anchor="middle" fill="#aaa">10<tspan font-size="1.8" dy="-0.9">0</tspan></text>
<line x1="465.4" y1="40.0" x2="467.0" y2="40.0" stroke="#999" stroke-width="0.6"/>
<text x="465.2" y="40.6" font-size="2.6" text-anchor="end" fill="#999">10<tspan font-size="1.8" dy="-0.9">1</tspan></text>
<line x1="479.4" y1="76.0" x2="479.4" y2="77.6" stroke="#999" stroke-width="0.6"/>
<text x="479.4" y="79.8" font-size="2.6" text-anchor="middle" fill="#aaa">10<tspan font-size="1.8" dy="-0.9">1</tspan></text>
<line x1="465.4" y1="51.5" x2="467.0" y2="51.5" stroke="#999" stroke-width="0.6"/>
<text x="465.2" y="52.1" font-size="2.6" text-anchor="end" fill="#999">10<tspan font-size="1.8" dy="-0.9">2</tspan></text>
<line x1="491.8" y1="76.0" x2="491.8" y2="77.6" stroke="#999" stroke-width="0.6"/>
<text x="491.8" y="79.8" font-size="2.6" text-anchor="middle" fill="#aaa">10<tspan font-size="1.8" dy="-0.9">2</tspan></text>
<line x1="465.4" y1="63.0" x2="467.0" y2="63.0" stroke="#999" stroke-width="0.6"/>
<text x="465.2" y="63.6" font-size="2.6" text-anchor="end" fill="#999">10<tspan font-size="1.8" dy="-0.9">3</tspan></text>
<line x1="504.1" y1="76.0" x2="504.1" y2="77.6" stroke="#999" stroke-width="0.6"/>
<text x="504.1" y="79.8" font-size="2.6" text-anchor="middle" fill="#aaa">10<tspan font-size="1.8" dy="-0.9">3</tspan></text>
<line x1="465.4" y1="74.6" x2="467.0" y2="74.6" stroke="#999" stroke-width="0.6"/>
<text x="465.2" y="75.2" font-size="2.6" text-anchor="end" fill="#999">10<tspan font-size="1.8" dy="-0.9">4</tspan></text>
<line x1="516.5" y1="76.0" x2="516.5" y2="77.6" stroke="#999" stroke-width="0.6"/>
<text x="516.5" y="79.8" font-size="2.6" text-anchor="middle" fill="#aaa">10<tspan font-size="1.8" dy="-0.9">4</tspan></text>
<clipPath id="c467_27"><rect x="0.4" y="0.3" width="48.8" height="47.8"/></clipPath>
<g clip-path="url(#c467_27)" transform="translate(467.0 27.6)">
<path d="M0 9.0 L10 6.5 L17 4.5 L22 5.5 L23 11.0 L18 17.5 L12.5 21 L12.0 32 L13.0 48.4 L0 48.4 Z" fill="#c8dcf4" filter="url(#blur2)"/>
<path d="M12 6.5 L18 4.0 L23.5 6.0 L24 12.0 L19 19.0 L14.5 23 L13.5 34 L13.5 48.4 L6.5 48.4 L6.5 20 Z" fill="#4a7cd0" filter="url(#speck)"/>
<path d="M0 10.5 L14 7.0 L17.8 5.8 L18.6 8.0 L17.6 15.5 L10.5 19.5 L9.5 30 L9.9 38 L10.5 48.4 L0 48.4 Z" fill="#6e9ce0" filter="url(#blur1)"/>
<path d="M0 11.0 L8 9.2 L14 7.4 L16.4 6.6 L17.2 7.6 L16.8 12.0 L16 15.6 L10 17.6 L7.0 20.0 L6.3 30 L8.0 37 L9.5 48.4 L0 48.4 Z" fill="#2a6ccc" filter="url(#blur1)"/>
<path d="M0 12.5 L9 10.6 L15 9.0 L15 14.0 L9 16.5 L4.8 19.0 L4.3 34 L6.3 48.4 L0 48.4 Z" fill="#1d58bc" filter="url(#blur1)" opacity="0.8"/>
<g transform="rotate(-16 9.6 14.0)" filter="url(#blur05)">
<ellipse cx="9.6" cy="14.0" rx="7.0" ry="4.2" fill="#1f8ad6"/>
<ellipse cx="9.6" cy="14.0" rx="5.4" ry="3.2" fill="#2fb0b0"/>
<ellipse cx="9.6" cy="14.0" rx="4.0" ry="2.4" fill="#60c448"/>
<ellipse cx="9.799999999999999" cy="14.0" rx="2.3" ry="1.45" fill="#ece02a"/>
</g>
<g filter="url(#blur05)">
<ellipse cx="3.4" cy="40.2" rx="4.6" ry="7.0" fill="#1f8ad6"/>
<ellipse cx="3.4" cy="40.2" rx="3.5" ry="5.4" fill="#2fb0a8"/>
<ellipse cx="3.4" cy="40.2" rx="2.6" ry="4.1" fill="#4cbc4c"/>
<ellipse cx="3.4" cy="40.400000000000006" rx="1.4" ry="2.5" fill="#80cc40"/>
</g>
</g>
<ellipse cx="494.8" cy="58.4" rx="9.0" ry="16.6" fill="none" stroke="#b0b0b0" stroke-width="0.6"/>
<text x="494.0" y="69.3" font-size="7.4" font-weight="bold" text-anchor="middle" fill="#222">0.36</text>
<rect x="409.3" y="84.2" width="49.0" height="48.8" fill="#fff" stroke="#808080" stroke-width="0.7"/>
<line x1="407.7" y1="85.0" x2="409.3" y2="85.0" stroke="#999" stroke-width="0.6"/>
<text x="407.5" y="85.6" font-size="2.6" text-anchor="end" fill="#999">10<tspan font-size="1.8" dy="-0.9">0</tspan></text>
<line x1="409.8" y1="133.0" x2="409.8" y2="134.6" stroke="#999" stroke-width="0.6"/>
<text x="409.8" y="136.8" font-size="2.6" text-anchor="middle" fill="#aaa">10<tspan font-size="1.8" dy="-0.9">0</tspan></text>
<line x1="407.7" y1="96.7" x2="409.3" y2="96.7" stroke="#999" stroke-width="0.6"/>
<text x="407.5" y="97.2" font-size="2.6" text-anchor="end" fill="#999">10<tspan font-size="1.8" dy="-0.9">1</tspan></text>
<line x1="421.6" y1="133.0" x2="421.6" y2="134.6" stroke="#999" stroke-width="0.6"/>
<text x="421.6" y="136.8" font-size="2.6" text-anchor="middle" fill="#aaa">10<tspan font-size="1.8" dy="-0.9">1</tspan></text>
<line x1="407.7" y1="108.3" x2="409.3" y2="108.3" stroke="#999" stroke-width="0.6"/>
<text x="407.5" y="108.9" font-size="2.6" text-anchor="end" fill="#999">10<tspan font-size="1.8" dy="-0.9">2</tspan></text>
<line x1="433.8" y1="133.0" x2="433.8" y2="134.6" stroke="#999" stroke-width="0.6"/>
<text x="433.8" y="136.8" font-size="2.6" text-anchor="middle" fill="#aaa">10<tspan font-size="1.8" dy="-0.9">2</tspan></text>
<line x1="407.7" y1="119.9" x2="409.3" y2="119.9" stroke="#999" stroke-width="0.6"/>
<text x="407.5" y="120.5" font-size="2.6" text-anchor="end" fill="#999">10<tspan font-size="1.8" dy="-0.9">3</tspan></text>
<line x1="446.1" y1="133.0" x2="446.1" y2="134.6" stroke="#999" stroke-width="0.6"/>
<text x="446.1" y="136.8" font-size="2.6" text-anchor="middle" fill="#aaa">10<tspan font-size="1.8" dy="-0.9">3</tspan></text>
<line x1="407.7" y1="131.6" x2="409.3" y2="131.6" stroke="#999" stroke-width="0.6"/>
<text x="407.5" y="132.2" font-size="2.6" text-anchor="end" fill="#999">10<tspan font-size="1.8" dy="-0.9">4</tspan></text>
<line x1="458.3" y1="133.0" x2="458.3" y2="134.6" stroke="#999" stroke-width="0.6"/>
<text x="458.3" y="136.8" font-size="2.6" text-anchor="middle" fill="#aaa">10<tspan font-size="1.8" dy="-0.9">4</tspan></text>
<clipPath id="c409_84"><rect x="0.4" y="0.3" width="48.3" height="48.199999999999996"/></clipPath>
<g clip-path="url(#c409_84)" transform="translate(409.3 84.2)">
<path d="M0 8.5 L10 6.0 L17 4.0 L22 5.0 L23 10.5 L18 17.0 L12.0 21 L11.5 32 L12.5 48.8 L0 48.8 Z" fill="#c8dcf4" filter="url(#blur2)"/>
<path d="M12 6.0 L18 3.5 L23.5 5.5 L24 11.5 L19 18.5 L14.0 23 L13.0 34 L13.0 48.8 L6.0 48.8 L6.0 20 Z" fill="#4a7cd0" filter="url(#speck)"/>
<path d="M0 10.0 L14 6.5 L17.8 5.3 L18.6 7.5 L17.6 15.0 L10.0 19.0 L9.0 30 L9.4 38 L10.0 48.8 L0 48.8 Z" fill="#6e9ce0" filter="url(#blur1)"/>
<path d="M0 10.5 L8 8.7 L14 6.9 L16.4 6.1 L17.2 7.1 L16.8 11.5 L16 15.1 L10 17.1 L6.5 19.5 L5.8 30 L7.5 37 L9.0 48.8 L0 48.8 Z" fill="#2a6ccc" filter="url(#blur1)"/>
<path d="M0 12.0 L9 10.1 L15 8.5 L15 13.5 L9 16.0 L4.5 18.5 L4.0 34 L6.0 48.8 L0 48.8 Z" fill="#1d58bc" filter="url(#blur1)" opacity="0.8"/>
<g transform="rotate(-16 10.0 13.3)" filter="url(#blur05)">
<ellipse cx="10.0" cy="13.3" rx="7.0" ry="4.2" fill="#1f8ad6"/>
<ellipse cx="10.0" cy="13.3" rx="5.4" ry="3.2" fill="#2fb0b0"/>
<ellipse cx="10.0" cy="13.3" rx="4.0" ry="2.4" fill="#60c448"/>
<ellipse cx="10.2" cy="13.3" rx="2.3" ry="1.45" fill="#ece02a"/>
</g>
<g filter="url(#blur05)">
<ellipse cx="3.8" cy="41.6" rx="4.6" ry="7.0" fill="#1f8ad6"/>
<ellipse cx="3.8" cy="41.6" rx="3.5" ry="5.4" fill="#2fb0a8"/>
<ellipse cx="3.8" cy="41.6" rx="2.6" ry="4.1" fill="#4cbc4c"/>
<ellipse cx="3.8" cy="41.800000000000004" rx="1.4" ry="2.5" fill="#d8e030"/>
</g>
</g>
<ellipse cx="437.8" cy="113.4" rx="9.0" ry="16.6" fill="none" stroke="#b0b0b0" stroke-width="0.6"/>
<text x="437.0" y="124.30000000000001" font-size="7.4" font-weight="bold" text-anchor="middle" fill="#222">0.17</text>
<rect x="466.8" y="84.2" width="49.2" height="48.8" fill="#fff" stroke="#808080" stroke-width="0.7"/>
<line x1="465.2" y1="85.0" x2="466.8" y2="85.0" stroke="#999" stroke-width="0.6"/>
<text x="465.0" y="85.6" font-size="2.6" text-anchor="end" fill="#999">10<tspan font-size="1.8" dy="-0.9">0</tspan></text>
<line x1="467.3" y1="133.0" x2="467.3" y2="134.6" stroke="#999" stroke-width="0.6"/>
<text x="467.3" y="136.8" font-size="2.6" text-anchor="middle" fill="#aaa">10<tspan font-size="1.8" dy="-0.9">0</tspan></text>
<line x1="465.2" y1="96.7" x2="466.8" y2="96.7" stroke="#999" stroke-width="0.6"/>
<text x="465.0" y="97.2" font-size="2.6" text-anchor="end" fill="#999">10<tspan font-size="1.8" dy="-0.9">1</tspan></text>
<line x1="479.1" y1="133.0" x2="479.1" y2="134.6" stroke="#999" stroke-width="0.6"/>
<text x="479.1" y="136.8" font-size="2.6" text-anchor="middle" fill="#aaa">10<tspan font-size="1.8" dy="-0.9">1</tspan></text>
<line x1="465.2" y1="108.3" x2="466.8" y2="108.3" stroke="#999" stroke-width="0.6"/>
<text x="465.0" y="108.9" font-size="2.6" text-anchor="end" fill="#999">10<tspan font-size="1.8" dy="-0.9">2</tspan></text>
<line x1="491.4" y1="133.0" x2="491.4" y2="134.6" stroke="#999" stroke-width="0.6"/>
<text x="491.4" y="136.8" font-size="2.6" text-anchor="middle" fill="#aaa">10<tspan font-size="1.8" dy="-0.9">2</tspan></text>
<line x1="465.2" y1="119.9" x2="466.8" y2="119.9" stroke="#999" stroke-width="0.6"/>
<text x="465.0" y="120.5" font-size="2.6" text-anchor="end" fill="#999">10<tspan font-size="1.8" dy="-0.9">3</tspan></text>
<line x1="503.7" y1="133.0" x2="503.7" y2="134.6" stroke="#999" stroke-width="0.6"/>
<text x="503.7" y="136.8" font-size="2.6" text-anchor="middle" fill="#aaa">10<tspan font-size="1.8" dy="-0.9">3</tspan></text>
<line x1="465.2" y1="131.6" x2="466.8" y2="131.6" stroke="#999" stroke-width="0.6"/>
<text x="465.0" y="132.2" font-size="2.6" text-anchor="end" fill="#999">10<tspan font-size="1.8" dy="-0.9">4</tspan></text>
<line x1="516.0" y1="133.0" x2="516.0" y2="134.6" stroke="#999" stroke-width="0.6"/>
<text x="516.0" y="136.8" font-size="2.6" text-anchor="middle" fill="#aaa">10<tspan font-size="1.8" dy="-0.9">4</tspan></text>
<clipPath id="c466_84"><rect x="0.4" y="0.3" width="48.5" height="48.199999999999996"/></clipPath>
<g clip-path="url(#c466_84)" transform="translate(466.8 84.2)">
<path d="M0 8.7 L10 6.2 L17 4.2 L22 5.2 L23 10.7 L18 17.2 L12.0 21 L11.5 32 L12.5 48.8 L0 48.8 Z" fill="#c8dcf4" filter="url(#blur2)"/>
<path d="M12 6.2 L18 3.7 L23.5 5.7 L24 11.7 L19 18.7 L14.0 23 L13.0 34 L13.0 48.8 L6.0 48.8 L6.0 20 Z" fill="#4a7cd0" filter="url(#speck)"/>
<path d="M0 10.2 L14 6.7 L17.8 5.5 L18.6 7.7 L17.6 15.2 L10.0 19.2 L9.0 30 L9.4 38 L10.0 48.8 L0 48.8 Z" fill="#6e9ce0" filter="url(#blur1)"/>
<path d="M0 10.7 L8 8.899999999999999 L14 7.1000000000000005 L16.4 6.3 L17.2 7.3 L16.8 11.7 L16 15.299999999999999 L10 17.3 L6.5 19.7 L5.8 30 L7.5 37 L9.0 48.8 L0 48.8 Z" fill="#2a6ccc" filter="url(#blur1)"/>
<path d="M0 12.2 L9 10.299999999999999 L15 8.7 L15 13.7 L9 16.2 L4.5 18.7 L4.0 34 L6.0 48.8 L0 48.8 Z" fill="#1d58bc" filter="url(#blur1)" opacity="0.8"/>
<g transform="rotate(-16 9.8 13.5)" filter="url(#blur05)">
<ellipse cx="9.8" cy="13.5" rx="7.0" ry="4.2" fill="#1f8ad6"/>
<ellipse cx="9.8" cy="13.5" rx="5.4" ry="3.2" fill="#2fb0b0"/>
<ellipse cx="9.8" cy="13.5" rx="4.0" ry="2.4" fill="#60c448"/>
<ellipse cx="10.0" cy="13.5" rx="2.3" ry="1.45" fill="#ece02a"/>
</g>
<g filter="url(#blur05)">
<ellipse cx="3.6" cy="41.0" rx="4.6" ry="7.0" fill="#1f8ad6"/>
<ellipse cx="3.6" cy="41.0" rx="3.5" ry="5.4" fill="#2fb0a8"/>
<ellipse cx="3.6" cy="41.0" rx="2.6" ry="4.1" fill="#4cbc4c"/>
<ellipse cx="3.6" cy="41.2" rx="1.4" ry="2.5" fill="#80cc40"/>
</g>
</g>
<ellipse cx="494.8" cy="113.8" rx="9.0" ry="16.6" fill="none" stroke="#b0b0b0" stroke-width="0.6"/>
<text x="494.0" y="124.7" font-size="7.4" font-weight="bold" text-anchor="middle" fill="#222">0.39</text>
<rect x="409.4" y="140.8" width="49.0" height="48.6" fill="#fff" stroke="#808080" stroke-width="0.7"/>
<line x1="407.79999999999995" y1="141.6" x2="409.4" y2="141.6" stroke="#999" stroke-width="0.6"/>
<text x="407.6" y="142.2" font-size="2.6" text-anchor="end" fill="#999">10<tspan font-size="1.8" dy="-0.9">0</tspan></text>
<line x1="409.9" y1="189.4" x2="409.9" y2="191.0" stroke="#999" stroke-width="0.6"/>
<text x="409.9" y="193.2" font-size="2.6" text-anchor="middle" fill="#aaa">10<tspan font-size="1.8" dy="-0.9">0</tspan></text>
<line x1="407.79999999999995" y1="153.2" x2="409.4" y2="153.2" stroke="#999" stroke-width="0.6"/>
<text x="407.6" y="153.8" font-size="2.6" text-anchor="end" fill="#999">10<tspan font-size="1.8" dy="-0.9">1</tspan></text>
<line x1="421.6" y1="189.4" x2="421.6" y2="191.0" stroke="#999" stroke-width="0.6"/>
<text x="421.6" y="193.2" font-size="2.6" text-anchor="middle" fill="#aaa">10<tspan font-size="1.8" dy="-0.9">1</tspan></text>
<line x1="407.79999999999995" y1="164.8" x2="409.4" y2="164.8" stroke="#999" stroke-width="0.6"/>
<text x="407.6" y="165.4" font-size="2.6" text-anchor="end" fill="#999">10<tspan font-size="1.8" dy="-0.9">2</tspan></text>
<line x1="433.9" y1="189.4" x2="433.9" y2="191.0" stroke="#999" stroke-width="0.6"/>
<text x="433.9" y="193.2" font-size="2.6" text-anchor="middle" fill="#aaa">10<tspan font-size="1.8" dy="-0.9">2</tspan></text>
<line x1="407.79999999999995" y1="176.4" x2="409.4" y2="176.4" stroke="#999" stroke-width="0.6"/>
<text x="407.6" y="177.0" font-size="2.6" text-anchor="end" fill="#999">10<tspan font-size="1.8" dy="-0.9">3</tspan></text>
<line x1="446.1" y1="189.4" x2="446.1" y2="191.0" stroke="#999" stroke-width="0.6"/>
<text x="446.1" y="193.2" font-size="2.6" text-anchor="middle" fill="#aaa">10<tspan font-size="1.8" dy="-0.9">3</tspan></text>
<line x1="407.79999999999995" y1="188.0" x2="409.4" y2="188.0" stroke="#999" stroke-width="0.6"/>
<text x="407.6" y="188.6" font-size="2.6" text-anchor="end" fill="#999">10<tspan font-size="1.8" dy="-0.9">4</tspan></text>
<line x1="458.4" y1="189.4" x2="458.4" y2="191.0" stroke="#999" stroke-width="0.6"/>
<text x="458.4" y="193.2" font-size="2.6" text-anchor="middle" fill="#aaa">10<tspan font-size="1.8" dy="-0.9">4</tspan></text>
<clipPath id="c409_140"><rect x="0.4" y="0.3" width="48.3" height="48.0"/></clipPath>
<g clip-path="url(#c409_140)" transform="translate(409.4 140.8)">
<path d="M0 9.0 L10 6.5 L17 4.5 L22 5.5 L23 11.0 L18 17.5 L14.5 21 L14.0 32 L15.0 48.6 L0 48.6 Z" fill="#c8dcf4" filter="url(#blur2)"/>
<path d="M12 6.5 L18 4.0 L23.5 6.0 L24 12.0 L19 19.0 L16.5 23 L15.5 34 L15.5 48.6 L8.5 48.6 L8.5 20 Z" fill="#4a7cd0" filter="url(#speck)"/>
<path d="M0 10.5 L14 7.0 L17.8 5.8 L18.6 8.0 L17.6 15.5 L12.5 19.5 L11.5 30 L11.9 38 L12.5 48.6 L0 48.6 Z" fill="#6e9ce0" filter="url(#blur1)"/>
<path d="M0 11.0 L8 9.2 L14 7.4 L16.4 6.6 L17.2 7.6 L16.8 12.0 L16 15.6 L10 17.6 L9.0 20.0 L8.3 30 L10.0 37 L11.5 48.6 L0 48.6 Z" fill="#2a6ccc" filter="url(#blur1)"/>
<path d="M0 12.5 L9 10.6 L15 9.0 L15 14.0 L9 16.5 L6.0 19.0 L5.5 34 L7.5 48.6 L0 48.6 Z" fill="#1d58bc" filter="url(#blur1)" opacity="0.8"/>
<g transform="rotate(-16 9.8 14.5)" filter="url(#blur05)">
<ellipse cx="9.8" cy="14.5" rx="7.0" ry="4.2" fill="#1f8ad6"/>
<ellipse cx="9.8" cy="14.5" rx="5.4" ry="3.2" fill="#2fb0b0"/>
<ellipse cx="9.8" cy="14.5" rx="4.0" ry="2.4" fill="#60c448"/>
<ellipse cx="10.0" cy="14.5" rx="2.3" ry="1.45" fill="#ece02a"/>
</g>
<g filter="url(#blur05)">
<ellipse cx="4.9" cy="40.1" rx="4.3" ry="6.4" fill="#2090d0"/>
<ellipse cx="4.9" cy="40.1" rx="3.0" ry="4.6" fill="#30b090"/>
<ellipse cx="4.9" cy="40.1" rx="1.8" ry="3.0" fill="#60c050"/>
</g>
<ellipse cx="28.5" cy="22.5" rx="4.5" ry="8" fill="#9dbce6" opacity="0.45" filter="url(#blur2)"/>
<ellipse cx="28.5" cy="22.5" rx="5.2" ry="9" fill="#3a6cc8" filter="url(#speck)"/>
<path d="M14 18 L24 14 L27 24 L26 40 L14 48.6 Z" fill="#7aa0dc" filter="url(#speck)" opacity="0.8"/>
</g>
<ellipse cx="437.9" cy="169.3" rx="9.0" ry="16.6" fill="none" stroke="#b0b0b0" stroke-width="0.6"/>
<text x="437.09999999999997" y="180.20000000000002" font-size="7.4" font-weight="bold" text-anchor="middle" fill="#222">2.16</text>
<rect x="466.8" y="140.8" width="49.2" height="48.8" fill="#fff" stroke="#808080" stroke-width="0.7"/>
<line x1="465.2" y1="141.6" x2="466.8" y2="141.6" stroke="#999" stroke-width="0.6"/>
<text x="465.0" y="142.2" font-size="2.6" text-anchor="end" fill="#999">10<tspan font-size="1.8" dy="-0.9">0</tspan></text>
<line x1="467.3" y1="189.60000000000002" x2="467.3" y2="191.20000000000002" stroke="#999" stroke-width="0.6"/>
<text x="467.3" y="193.4" font-size="2.6" text-anchor="middle" fill="#aaa">10<tspan font-size="1.8" dy="-0.9">0</tspan></text>
<line x1="465.2" y1="153.3" x2="466.8" y2="153.3" stroke="#999" stroke-width="0.6"/>
<text x="465.0" y="153.9" font-size="2.6" text-anchor="end" fill="#999">10<tspan font-size="1.8" dy="-0.9">1</tspan></text>
<line x1="479.1" y1="189.60000000000002" x2="479.1" y2="191.20000000000002" stroke="#999" stroke-width="0.6"/>
<text x="479.1" y="193.4" font-size="2.6" text-anchor="middle" fill="#aaa">10<tspan font-size="1.8" dy="-0.9">1</tspan></text>
<line x1="465.2" y1="164.9" x2="466.8" y2="164.9" stroke="#999" stroke-width="0.6"/>
<text x="465.0" y="165.5" font-size="2.6" text-anchor="end" fill="#999">10<tspan font-size="1.8" dy="-0.9">2</tspan></text>
<line x1="491.4" y1="189.60000000000002" x2="491.4" y2="191.20000000000002" stroke="#999" stroke-width="0.6"/>
<text x="491.4" y="193.4" font-size="2.6" text-anchor="middle" fill="#aaa">10<tspan font-size="1.8" dy="-0.9">2</tspan></text>
<line x1="465.2" y1="176.6" x2="466.8" y2="176.6" stroke="#999" stroke-width="0.6"/>
<text x="465.0" y="177.2" font-size="2.6" text-anchor="end" fill="#999">10<tspan font-size="1.8" dy="-0.9">3</tspan></text>
<line x1="503.7" y1="189.60000000000002" x2="503.7" y2="191.20000000000002" stroke="#999" stroke-width="0.6"/>
<text x="503.7" y="193.4" font-size="2.6" text-anchor="middle" fill="#aaa">10<tspan font-size="1.8" dy="-0.9">3</tspan></text>
<line x1="465.2" y1="188.2" x2="466.8" y2="188.2" stroke="#999" stroke-width="0.6"/>
<text x="465.0" y="188.8" font-size="2.6" text-anchor="end" fill="#999">10<tspan font-size="1.8" dy="-0.9">4</tspan></text>
<line x1="516.0" y1="189.60000000000002" x2="516.0" y2="191.20000000000002" stroke="#999" stroke-width="0.6"/>
<text x="516.0" y="193.4" font-size="2.6" text-anchor="middle" fill="#aaa">10<tspan font-size="1.8" dy="-0.9">4</tspan></text>
<clipPath id="c466_140"><rect x="0.4" y="0.3" width="48.5" height="48.199999999999996"/></clipPath>
<g clip-path="url(#c466_140)" transform="translate(466.8 140.8)">
<path d="M0 9.0 L10 6.5 L17 4.5 L22 5.5 L23 11.0 L18 17.5 L13.5 21 L13.0 32 L14.0 48.8 L0 48.8 Z" fill="#c8dcf4" filter="url(#blur2)"/>
<path d="M12 6.5 L18 4.0 L23.5 6.0 L24 12.0 L19 19.0 L15.5 23 L14.5 34 L14.5 48.8 L7.5 48.8 L7.5 20 Z" fill="#4a7cd0" filter="url(#speck)"/>
<path d="M0 10.5 L14 7.0 L17.8 5.8 L18.6 8.0 L17.6 15.5 L11.5 19.5 L10.5 30 L10.9 38 L11.5 48.8 L0 48.8 Z" fill="#6e9ce0" filter="url(#blur1)"/>
<path d="M0 11.0 L8 9.2 L14 7.4 L16.4 6.6 L17.2 7.6 L16.8 12.0 L16 15.6 L10 17.6 L8.0 20.0 L7.3 30 L9.0 37 L10.5 48.8 L0 48.8 Z" fill="#2a6ccc" filter="url(#blur1)"/>
<path d="M0 12.5 L9 10.6 L15 9.0 L15 14.0 L9 16.5 L5.4 19.0 L4.9 34 L6.9 48.8 L0 48.8 Z" fill="#1d58bc" filter="url(#blur1)" opacity="0.8"/>
<g transform="rotate(-16 9.8 14.2)" filter="url(#blur05)">
<ellipse cx="9.8" cy="14.2" rx="7.0" ry="4.2" fill="#1f8ad6"/>
<ellipse cx="9.8" cy="14.2" rx="5.4" ry="3.2" fill="#2fb0b0"/>
<ellipse cx="9.8" cy="14.2" rx="4.0" ry="2.4" fill="#60c448"/>
<ellipse cx="10.0" cy="14.2" rx="2.3" ry="1.45" fill="#ece02a"/>
</g>
<g filter="url(#blur05)">
<ellipse cx="4.0" cy="40.5" rx="4.3" ry="6.4" fill="#2090d0"/>
<ellipse cx="4.0" cy="40.5" rx="3.0" ry="4.6" fill="#30b090"/>
<ellipse cx="4.0" cy="40.5" rx="1.8" ry="3.0" fill="#60c050"/>
</g>
<ellipse cx="28.0" cy="23.799999999999983" rx="4.5" ry="8" fill="#9dbce6" opacity="0.3" filter="url(#blur2)"/>
<ellipse cx="28.0" cy="23.799999999999983" rx="6" ry="12" fill="#6a94d8" filter="url(#speck)"/>
<path d="M14 18 L24 14 L27 24 L26 40 L14 48.8 Z" fill="#7aa0dc" filter="url(#speck)" opacity="0.8"/>
</g>
<ellipse cx="494.8" cy="170.6" rx="9.0" ry="16.6" fill="none" stroke="#b0b0b0" stroke-width="0.6"/>
<text x="494.0" y="181.5" font-size="7.4" font-weight="bold" text-anchor="middle" fill="#222">0.9</text>
<text x="1.0" y="234.8" font-size="11.5" text-anchor="start" font-weight="bold" fill="#111">F</text>
<line x1="26.9" y1="236.5" x2="26.9" y2="308.7" stroke="#666" stroke-width="1.0"/>
<line x1="25.099999999999998" y1="308.7" x2="26.9" y2="308.7" stroke="#666" stroke-width="1.0"/>
<text x="23.2" y="311.0" font-size="6.4" text-anchor="end" fill="#333">0</text>
<line x1="25.099999999999998" y1="294.28" x2="26.9" y2="294.28" stroke="#666" stroke-width="1.0"/>
<text x="23.2" y="296.58" font-size="6.4" text-anchor="end" fill="#333">0.2</text>
<line x1="25.099999999999998" y1="279.86" x2="26.9" y2="279.86" stroke="#666" stroke-width="1.0"/>
<text x="23.2" y="282.16" font-size="6.4" text-anchor="end" fill="#333">0.4</text>
<line x1="25.099999999999998" y1="265.44" x2="26.9" y2="265.44" stroke="#666" stroke-width="1.0"/>
<text x="23.2" y="267.74" font-size="6.4" text-anchor="end" fill="#333">0.6</text>
<line x1="25.099999999999998" y1="251.02" x2="26.9" y2="251.02" stroke="#666" stroke-width="1.0"/>
<text x="23.2" y="253.32" font-size="6.4" text-anchor="end" fill="#333">0.8</text>
<line x1="25.099999999999998" y1="236.6" x2="26.9" y2="236.6" stroke="#666" stroke-width="1.0"/>
<text x="23.2" y="238.9" font-size="6.4" text-anchor="end" fill="#333">1</text>
<line x1="26.9" y1="308.7" x2="104.4" y2="308.7" stroke="#666" stroke-width="1.2"/>
<text x="6.8" y="271.0" font-size="6.4" text-anchor="middle" fill="#444" transform="rotate(-90 6.8 271.0)" textLength="56.7" lengthAdjust="spacingAndGlyphs">Total  NP-IgG1 (OD)</text>
<circle cx="36.9" cy="246.9" r="1.55" fill="#fff" stroke="#808080" stroke-width="0.75"/>
<circle cx="36.9" cy="254.2" r="1.55" fill="#fff" stroke="#808080" stroke-width="0.75"/>
<line x1="31.5" y1="251.3" x2="42.7" y2="251.3" stroke="#c0c0cc" stroke-width="2.0"/>
<circle cx="36.9" cy="262.5" r="1.6" fill="#111"/>
<line x1="31.5" y1="279.8" x2="42.7" y2="279.8" stroke="#111" stroke-width="1.8"/>
<circle cx="36.9" cy="286.5" r="1.6" fill="#111"/>
<circle cx="36.9" cy="290.8" r="1.6" fill="#111"/>
<line x1="50.8" y1="308.2" x2="60.5" y2="308.2" stroke="#ccc" stroke-width="1.4"/>
<circle cx="75.8" cy="255.8" r="1.55" fill="#fff" stroke="#808080" stroke-width="0.75"/>
<circle cx="75.8" cy="262.5" r="1.55" fill="#fff" stroke="#808080" stroke-width="0.75"/>
<line x1="70.4" y1="264.2" x2="81.2" y2="264.2" stroke="#c0c0cc" stroke-width="2.0"/>
<circle cx="75.8" cy="272.9" r="1.55" fill="#fff" stroke="#808080" stroke-width="0.75"/>
<circle cx="75.8" cy="290.4" r="1.6" fill="#111"/>
<line x1="70.4" y1="293.7" x2="81.2" y2="293.7" stroke="#111" stroke-width="1.8"/>
<circle cx="75.8" cy="300.0" r="1.6" fill="#111"/>
<circle cx="95.0" cy="248.1" r="1.55" fill="#fff" stroke="#808080" stroke-width="0.75"/>
<circle cx="95.0" cy="252.3" r="1.55" fill="#fff" stroke="#808080" stroke-width="0.75"/>
<line x1="89.6" y1="258.5" x2="100.4" y2="258.5" stroke="#c0c0cc" stroke-width="2.0"/>
<circle cx="95.0" cy="259.8" r="1.55" fill="#fff" stroke="#808080" stroke-width="0.75"/>
<circle cx="95.0" cy="261.0" r="1.6" fill="#111"/>
<line x1="89.6" y1="262.9" x2="100.4" y2="262.9" stroke="#111" stroke-width="1.8"/>
<circle cx="95.0" cy="264.9" r="1.55" fill="#fff" stroke="#808080" stroke-width="0.75"/>
<circle cx="95.0" cy="267.3" r="1.55" fill="#fff" stroke="#808080" stroke-width="0.75"/>
<text x="33.3" y="317.6" font-size="6.3" text-anchor="middle" fill="#2a2a2a">day 30</text>
<text x="54.4" y="317.6" font-size="6.3" text-anchor="middle" fill="#2a2a2a">CFA</text>
<text x="76.9" y="314.0" font-size="6.3" text-anchor="middle" fill="#2a2a2a">no</text>
<text x="99.6" y="314.0" font-size="6.3" text-anchor="middle" fill="#2a2a2a">after</text>
<text x="76.9" y="321.8" font-size="6.3" text-anchor="middle" fill="#2a2a2a">boost</text>
<text x="99.6" y="321.8" font-size="6.3" text-anchor="middle" fill="#2a2a2a">boost</text>
<line x1="50.6" y1="326.0" x2="104.4" y2="326.0" stroke="#555" stroke-width="1.0"/>
<text x="78.8" y="333.0" font-size="6.3" text-anchor="middle" fill="#2a2a2a">day 90</text>
<line x1="139.8" y1="237.5" x2="139.8" y2="309.6" stroke="#666" stroke-width="1.0"/>
<line x1="138.0" y1="309.6" x2="139.8" y2="309.6" stroke="#666" stroke-width="1.0"/>
<text x="136.0" y="311.9" font-size="6.4" text-anchor="end" fill="#333">0</text>
<line x1="138.0" y1="295.18" x2="139.8" y2="295.18" stroke="#666" stroke-width="1.0"/>
<text x="136.0" y="297.48" font-size="6.4" text-anchor="end" fill="#333">0.2</text>
<line x1="138.0" y1="280.76" x2="139.8" y2="280.76" stroke="#666" stroke-width="1.0"/>
<text x="136.0" y="283.06" font-size="6.4" text-anchor="end" fill="#333">0.4</text>
<line x1="138.0" y1="266.34" x2="139.8" y2="266.34" stroke="#666" stroke-width="1.0"/>
<text x="136.0" y="268.64" font-size="6.4" text-anchor="end" fill="#333">0.6</text>
<line x1="138.0" y1="251.92" x2="139.8" y2="251.92" stroke="#666" stroke-width="1.0"/>
<text x="136.0" y="254.22" font-size="6.4" text-anchor="end" fill="#333">0.8</text>
<line x1="138.0" y1="237.5" x2="139.8" y2="237.5" stroke="#666" stroke-width="1.0"/>
<text x="136.0" y="239.8" font-size="6.4" text-anchor="end" fill="#333">1</text>
<line x1="139.8" y1="309.6" x2="217.5" y2="309.6" stroke="#666" stroke-width="1.2"/>
<text x="122.5" y="271.3" font-size="6.3" text-anchor="middle" fill="#444" transform="rotate(-90 122.5 271.3)" textLength="72.7" lengthAdjust="spacingAndGlyphs">High affinity NP-IgG1 (OD)</text>
<circle cx="149.4" cy="249.8" r="1.55" fill="#fff" stroke="#808080" stroke-width="0.75"/>
<line x1="143.9" y1="254.3" x2="155.7" y2="254.3" stroke="#c0c0cc" stroke-width="2.0"/>
<circle cx="149.4" cy="256.7" r="1.55" fill="#fff" stroke="#808080" stroke-width="0.75"/>
<circle cx="149.4" cy="266.2" r="1.6" fill="#111"/>
<line x1="143.9" y1="281.4" x2="155.7" y2="281.4" stroke="#111" stroke-width="1.8"/>
<circle cx="149.4" cy="286.7" r="1.6" fill="#111"/>
<circle cx="149.4" cy="291.2" r="1.6" fill="#111"/>
<circle cx="164.9" cy="309.2" r="1.3" fill="#d0d0dc" stroke="#a8a8b8" stroke-width="0.6"/>
<circle cx="167.4" cy="309.2" r="1.3" fill="#d0d0dc" stroke="#a8a8b8" stroke-width="0.6"/>
<circle cx="169.9" cy="309.2" r="1.3" fill="#d0d0dc" stroke="#a8a8b8" stroke-width="0.6"/>
<circle cx="172.4" cy="309.2" r="1.3" fill="#d0d0dc" stroke="#a8a8b8" stroke-width="0.6"/>
<circle cx="188.3" cy="264.2" r="1.55" fill="#fff" stroke="#808080" stroke-width="0.75"/>
<line x1="182.8" y1="273.5" x2="194.2" y2="273.5" stroke="#c0c0cc" stroke-width="2.0"/>
<circle cx="188.3" cy="282.8" r="1.55" fill="#fff" stroke="#808080" stroke-width="0.75"/>
<circle cx="188.3" cy="291.2" r="1.6" fill="#111"/>
<line x1="182.8" y1="293.6" x2="194.2" y2="293.6" stroke="#111" stroke-width="1.8"/>
<circle cx="188.3" cy="298.2" r="1.6" fill="#111"/>
<circle cx="208.0" cy="258.7" r="1.55" fill="#fff" stroke="#808080" stroke-width="0.75"/>
<line x1="202.1" y1="265.0" x2="214.0" y2="265.0" stroke="#c0c0cc" stroke-width="2.0"/>
<line x1="202.1" y1="268.0" x2="214.0" y2="268.0" stroke="#111" stroke-width="1.8"/>
<circle cx="208.0" cy="268.8" r="1.1" fill="#fff" stroke="#808080" stroke-width="0.75"/>
<text x="146.3" y="321.4" font-size="6.3" text-anchor="middle" fill="#2a2a2a">day 30</text>
<text x="167.5" y="321.4" font-size="6.3" text-anchor="middle" fill="#2a2a2a">CFA</text>
<text x="189.6" y="317.6" font-size="6.3" text-anchor="middle" fill="#2a2a2a">no</text>
<text x="211.7" y="317.6" font-size="6.3" text-anchor="middle" fill="#2a2a2a">after</text>
<text x="189.6" y="325.9" font-size="6.3" text-anchor="middle" fill="#2a2a2a">boost</text>
<text x="211.7" y="325.9" font-size="6.3" text-anchor="middle" fill="#2a2a2a">boost</text>
<line x1="163.0" y1="329.8" x2="217.5" y2="329.8" stroke="#555" stroke-width="1.0"/>
<text x="191.5" y="337.4" font-size="6.3" text-anchor="middle" fill="#2a2a2a">day 90</text>
<line x1="62.9" y1="342.1" x2="62.9" y2="380.1" stroke="#333" stroke-width="0.8"/>
<line x1="61.1" y1="380.1" x2="62.9" y2="380.1" stroke="#333" stroke-width="0.7"/>
<text x="59.699999999999996" y="381.9" font-size="5.0" text-anchor="end" fill="#333">0</text>
<line x1="61.1" y1="367.6" x2="62.9" y2="367.6" stroke="#333" stroke-width="0.7"/>
<text x="59.699999999999996" y="369.4" font-size="5.0" text-anchor="end" fill="#333">1</text>
<line x1="61.1" y1="355.1" x2="62.9" y2="355.1" stroke="#333" stroke-width="0.7"/>
<text x="59.699999999999996" y="356.9" font-size="5.0" text-anchor="end" fill="#333">2</text>
<line x1="61.1" y1="342.6" x2="62.9" y2="342.6" stroke="#333" stroke-width="0.7"/>
<text x="59.699999999999996" y="344.4" font-size="5.0" text-anchor="end" fill="#333">3</text>
<line x1="62.9" y1="380.1" x2="112.6" y2="380.1" stroke="#333" stroke-width="0.9"/>
<rect x="67.6" y="342.3" width="16.0" height="37.80000000000001" fill="#fff" stroke="#222" stroke-width="0.9"/>
<rect x="92.4" y="365.7" width="15.5" height="14.400000000000034" fill="#fff" stroke="#222" stroke-width="0.9"/>
<line x1="87.0" y1="380.1" x2="87.0" y2="381.90000000000003" stroke="#333" stroke-width="0.7"/>
<text x="59.7" y="387.5" font-size="5.5" text-anchor="start" fill="#222" textLength="30.300000000000004" lengthAdjust="spacingAndGlyphs">SWAP-70<tspan font-size="3.8" dy="-1.8">+</tspan><tspan dy="1.8">/</tspan><tspan font-size="3.8" dy="-1.8">+</tspan></text>
<text x="90.4" y="387.5" font-size="5.5" text-anchor="start" fill="#222" textLength="27.5" lengthAdjust="spacingAndGlyphs">SWAP-70<tspan font-size="3.8" dy="-1.8">-</tspan><tspan dy="1.8">/</tspan><tspan font-size="3.8" dy="-1.8">-</tspan></text>
<text x="54.3" y="360.0" font-size="5.3" text-anchor="middle" fill="#333" transform="rotate(-90 54.3 360.0)" textLength="32" lengthAdjust="spacingAndGlyphs">Fold increase</text>
<line x1="177.6" y1="342.5" x2="177.6" y2="380.5" stroke="#333" stroke-width="0.8"/>
<line x1="175.79999999999998" y1="380.5" x2="177.6" y2="380.5" stroke="#333" stroke-width="0.7"/>
<text x="174.4" y="382.3" font-size="5.0" text-anchor="end" fill="#333">0</text>
<line x1="175.79999999999998" y1="368.0" x2="177.6" y2="368.0" stroke="#333" stroke-width="0.7"/>
<text x="174.4" y="369.8" font-size="5.0" text-anchor="end" fill="#333">1</text>
<line x1="175.79999999999998" y1="355.5" x2="177.6" y2="355.5" stroke="#333" stroke-width="0.7"/>
<text x="174.4" y="357.3" font-size="5.0" text-anchor="end" fill="#333">2</text>
<line x1="175.79999999999998" y1="343.0" x2="177.6" y2="343.0" stroke="#333" stroke-width="0.7"/>
<text x="174.4" y="344.8" font-size="5.0" text-anchor="end" fill="#333">3</text>
<line x1="177.6" y1="380.5" x2="226.0" y2="380.5" stroke="#333" stroke-width="0.9"/>
<rect x="182.2" y="348.0" width="16.200000000000017" height="32.5" fill="#fff" stroke="#222" stroke-width="0.9"/>
<rect x="207.1" y="364.6" width="15.5" height="15.899999999999977" fill="#fff" stroke="#222" stroke-width="0.9"/>
<line x1="202.4" y1="380.5" x2="202.4" y2="382.3" stroke="#333" stroke-width="0.7"/>
<text x="174.1" y="388.2" font-size="5.5" text-anchor="start" fill="#222" textLength="29.699999999999996" lengthAdjust="spacingAndGlyphs">SWAP-70<tspan font-size="3.8" dy="-1.8">+</tspan><tspan dy="1.8">/</tspan><tspan font-size="3.8" dy="-1.8">+</tspan></text>
<text x="204.2" y="388.2" font-size="5.5" text-anchor="start" fill="#222" textLength="27.5" lengthAdjust="spacingAndGlyphs">SWAP-70<tspan font-size="3.8" dy="-1.8">-</tspan><tspan dy="1.8">/</tspan><tspan font-size="3.8" dy="-1.8">-</tspan></text>
<text x="168.0" y="361.0" font-size="5.3" text-anchor="middle" fill="#333" transform="rotate(-90 168.0 361.0)" textLength="32" lengthAdjust="spacingAndGlyphs">Fold increase</text>
<text x="253.2" y="234.8" font-size="11.5" text-anchor="start" font-weight="bold" fill="#111">G</text>
<line x1="277.6" y1="255.3" x2="277.6" y2="330.9" stroke="#555" stroke-width="0.8"/>
<line x1="275.8" y1="330.9" x2="277.6" y2="330.9" stroke="#555" stroke-width="0.8"/>
<text x="275.0" y="332.7" font-size="5" text-anchor="end" fill="#444">0</text>
<line x1="275.8" y1="322.5" x2="277.6" y2="322.5" stroke="#555" stroke-width="0.8"/>
<text x="275.0" y="324.3" font-size="5" text-anchor="end" fill="#444">50</text>
<line x1="275.8" y1="314.1" x2="277.6" y2="314.1" stroke="#555" stroke-width="0.8"/>
<text x="275.0" y="315.9" font-size="5" text-anchor="end" fill="#444">100</text>
<line x1="275.8" y1="305.7" x2="277.6" y2="305.7" stroke="#555" stroke-width="0.8"/>
<text x="275.0" y="307.5" font-size="5" text-anchor="end" fill="#444">150</text>
<line x1="275.8" y1="297.3" x2="277.6" y2="297.3" stroke="#555" stroke-width="0.8"/>
<text x="275.0" y="299.1" font-size="5" text-anchor="end" fill="#444">200</text>
<line x1="275.8" y1="288.9" x2="277.6" y2="288.9" stroke="#555" stroke-width="0.8"/>
<text x="275.0" y="290.7" font-size="5" text-anchor="end" fill="#444">250</text>
<line x1="275.8" y1="280.5" x2="277.6" y2="280.5" stroke="#555" stroke-width="0.8"/>
<text x="275.0" y="282.3" font-size="5" text-anchor="end" fill="#444">300</text>
<line x1="275.8" y1="272.1" x2="277.6" y2="272.1" stroke="#555" stroke-width="0.8"/>
<text x="275.0" y="273.9" font-size="5" text-anchor="end" fill="#444">350</text>
<line x1="275.8" y1="263.7" x2="277.6" y2="263.7" stroke="#555" stroke-width="0.8"/>
<text x="275.0" y="265.5" font-size="5" text-anchor="end" fill="#444">400</text>
<line x1="275.8" y1="255.3" x2="277.6" y2="255.3" stroke="#555" stroke-width="0.8"/>
<text x="275.0" y="257.1" font-size="5" text-anchor="end" fill="#444">450</text>
<line x1="277.6" y1="330.9" x2="376.7" y2="330.9" stroke="#555" stroke-width="0.8"/>
<line x1="277.6" y1="330.9" x2="277.6" y2="332.5" stroke="#555" stroke-width="0.7"/>
<line x1="311.4" y1="330.9" x2="311.4" y2="332.5" stroke="#555" stroke-width="0.7"/>
<line x1="344.7" y1="330.9" x2="344.7" y2="332.5" stroke="#555" stroke-width="0.7"/>
<line x1="376.7" y1="330.9" x2="376.7" y2="332.5" stroke="#555" stroke-width="0.7"/>
<rect x="281" y="330.6" width="13" height="0.2999999999999545" fill="#1a1a1a" stroke="none" stroke-width="0.8"/>
<rect x="294.4" y="330.9" width="11.2" height="-2.275957200481571e-14" fill="#c9c9da" stroke="#3a3a3a" stroke-width="0.8"/>
<rect x="312.5" y="329.9" width="13.800000000000011" height="1.0" fill="#1a1a1a" stroke="none" stroke-width="0.8"/>
<line x1="319.4" y1="329.4" x2="319.4" y2="329.9" stroke="#333" stroke-width="0.8"/>
<line x1="318.2" y1="329.4" x2="320.59999999999997" y2="329.4" stroke="#333" stroke-width="0.8"/>
<rect x="326.7" y="330.7" width="13.299999999999965" height="0.19999999999996587" fill="#c9c9da" stroke="#3a3a3a" stroke-width="0.8"/>
<rect x="347.1" y="271.8" width="14.0" height="59.099999999999966" fill="#1a1a1a" stroke="none" stroke-width="0.8"/>
<line x1="354.1" y1="256.2" x2="354.1" y2="271.8" stroke="#333" stroke-width="0.8"/>
<line x1="352.90000000000003" y1="256.2" x2="355.3" y2="256.2" stroke="#333" stroke-width="0.8"/>
<rect x="361.5" y="301.79999999999995" width="12.7" height="29.1" fill="#c9c9da" stroke="#3a3a3a" stroke-width="0.8"/>
<line x1="367.85" y1="295.2" x2="367.85" y2="301.4" stroke="#333" stroke-width="0.8"/>
<line x1="366.65000000000003" y1="295.2" x2="369.05" y2="295.2" stroke="#333" stroke-width="0.8"/>
<line x1="355.2" y1="252.7" x2="366.0" y2="252.7" stroke="#333" stroke-width="0.8"/>
<text x="360.6" y="253.35" font-size="7.6" text-anchor="middle" fill="#1a1a1a">**</text>
<rect x="284.8" y="257.3" width="3.4" height="3.4" fill="#1a1a1a" stroke="none" stroke-width="0.8"/>
<rect x="285.1" y="265.5" width="2.8" height="2.8" fill="#f0f0f0" stroke="#333" stroke-width="0.6"/>
<text x="289.1" y="260.8" font-size="5.3" text-anchor="start" fill="#2a2a2a" stroke="#2a2a2a" stroke-width="0.1" textLength="27.8" lengthAdjust="spacingAndGlyphs">SWAP-70+/+</text>
<text x="289.1" y="268.7" font-size="5.3" text-anchor="start" fill="#5a5a5a" stroke="#5a5a5a" stroke-width="0.08" textLength="26.5" lengthAdjust="spacingAndGlyphs">SWAP-70-/-</text>
<text x="295.3" y="338.7" font-size="5.3" text-anchor="middle" fill="#444">CFA</text>
<text x="328.5" y="338.7" font-size="5.3" text-anchor="middle" fill="#444">no boost</text>
<text x="360.9" y="338.7" font-size="5.3" text-anchor="middle" fill="#444">after boost</text>
<text x="262.5" y="289.5" font-size="6.3" text-anchor="middle" fill="#333" transform="rotate(-90 262.5 289.5)" textLength="58.4" lengthAdjust="spacingAndGlyphs">Total NP-IgG1 ASCs</text>
<line x1="404.0" y1="255.8" x2="404.0" y2="331.1" stroke="#555" stroke-width="0.8"/>
<line x1="402.2" y1="331.1" x2="404.0" y2="331.1" stroke="#555" stroke-width="0.8"/>
<text x="401.4" y="332.9" font-size="5" text-anchor="end" fill="#444">0</text>
<line x1="402.2" y1="322.73" x2="404.0" y2="322.73" stroke="#555" stroke-width="0.8"/>
<text x="401.4" y="324.53" font-size="5" text-anchor="end" fill="#444">50</text>
<line x1="402.2" y1="314.37" x2="404.0" y2="314.37" stroke="#555" stroke-width="0.8"/>
<text x="401.4" y="316.17" font-size="5" text-anchor="end" fill="#444">100</text>
<line x1="402.2" y1="306.0" x2="404.0" y2="306.0" stroke="#555" stroke-width="0.8"/>
<text x="401.4" y="307.8" font-size="5" text-anchor="end" fill="#444">150</text>
<line x1="402.2" y1="297.63" x2="404.0" y2="297.63" stroke="#555" stroke-width="0.8"/>
<text x="401.4" y="299.43" font-size="5" text-anchor="end" fill="#444">200</text>
<line x1="402.2" y1="289.27" x2="404.0" y2="289.27" stroke="#555" stroke-width="0.8"/>
<text x="401.4" y="291.07" font-size="5" text-anchor="end" fill="#444">250</text>
<line x1="402.2" y1="280.9" x2="404.0" y2="280.9" stroke="#555" stroke-width="0.8"/>
<text x="401.4" y="282.7" font-size="5" text-anchor="end" fill="#444">300</text>
<line x1="402.2" y1="272.53" x2="404.0" y2="272.53" stroke="#555" stroke-width="0.8"/>
<text x="401.4" y="274.33" font-size="5" text-anchor="end" fill="#444">350</text>
<line x1="402.2" y1="264.17" x2="404.0" y2="264.17" stroke="#555" stroke-width="0.8"/>
<text x="401.4" y="265.97" font-size="5" text-anchor="end" fill="#444">400</text>
<line x1="402.2" y1="255.8" x2="404.0" y2="255.8" stroke="#555" stroke-width="0.8"/>
<text x="401.4" y="257.6" font-size="5" text-anchor="end" fill="#444">450</text>
<line x1="404.0" y1="331.1" x2="503.1" y2="331.1" stroke="#555" stroke-width="0.8"/>
<line x1="404.0" y1="331.1" x2="404.0" y2="332.70000000000005" stroke="#555" stroke-width="0.7"/>
<line x1="437.7" y1="331.1" x2="437.7" y2="332.70000000000005" stroke="#555" stroke-width="0.7"/>
<line x1="470.8" y1="331.1" x2="470.8" y2="332.70000000000005" stroke="#555" stroke-width="0.7"/>
<line x1="503.1" y1="331.1" x2="503.1" y2="332.70000000000005" stroke="#555" stroke-width="0.7"/>
<rect x="407" y="330.8" width="13" height="0.30000000000001137" fill="#1a1a1a" stroke="none" stroke-width="0.8"/>
<rect x="420.4" y="331.2" width="12.2" height="-0.09999999999998865" fill="#c9c9da" stroke="#3a3a3a" stroke-width="0.8"/>
<rect x="440.5" y="330.3" width="14.0" height="0.8000000000000114" fill="#1a1a1a" stroke="none" stroke-width="0.8"/>
<rect x="454.9" y="330.9" width="13.2" height="0.20000000000002272" fill="#c9c9da" stroke="#3a3a3a" stroke-width="0.8"/>
<rect x="473.1" y="277.8" width="13.799999999999955" height="53.30000000000001" fill="#1a1a1a" stroke="none" stroke-width="0.8"/>
<line x1="480.0" y1="265.0" x2="480.0" y2="277.8" stroke="#333" stroke-width="0.8"/>
<line x1="478.8" y1="265.0" x2="481.2" y2="265.0" stroke="#333" stroke-width="0.8"/>
<rect x="487.29999999999995" y="302.29999999999995" width="12.800000000000022" height="28.800000000000047" fill="#c9c9da" stroke="#3a3a3a" stroke-width="0.8"/>
<line x1="493.7" y1="297.6" x2="493.7" y2="301.9" stroke="#333" stroke-width="0.8"/>
<line x1="492.5" y1="297.6" x2="494.9" y2="297.6" stroke="#333" stroke-width="0.8"/>
<line x1="481.3" y1="261.7" x2="492.8" y2="261.7" stroke="#333" stroke-width="0.8"/>
<text x="487.2" y="263.05" font-size="7.6" text-anchor="middle" fill="#1a1a1a">**</text>
<rect x="411.2" y="258.2" width="2.9" height="2.9" fill="#1a1a1a" stroke="none" stroke-width="0.8"/>
<rect x="411.5" y="266.3" width="2.3" height="2.3" fill="#f0f0f0" stroke="#333" stroke-width="0.6"/>
<text x="414.7" y="261.2" font-size="5.4" text-anchor="start" fill="#2a2a2a" stroke="#2a2a2a" stroke-width="0.1" textLength="30.5" lengthAdjust="spacingAndGlyphs">SWAP-70+/+</text>
<text x="414.7" y="269.0" font-size="5.4" text-anchor="start" fill="#5a5a5a" stroke="#5a5a5a" stroke-width="0.08" textLength="27.5" lengthAdjust="spacingAndGlyphs">SWAP-70-/-</text>
<text x="421.5" y="339.2" font-size="5.3" text-anchor="middle" fill="#444">CFA</text>
<text x="454.6" y="339.2" font-size="5.3" text-anchor="middle" fill="#444">no boost</text>
<text x="486.9" y="339.2" font-size="5.3" text-anchor="middle" fill="#444">after boost</text>
<text x="390.0" y="288.3" font-size="6.3" text-anchor="middle" fill="#333" transform="rotate(-90 390.0 288.3)" textLength="72.7" lengthAdjust="spacingAndGlyphs">High affinity NP-IgG1 ASCs</text>
</svg>
</body></html>
